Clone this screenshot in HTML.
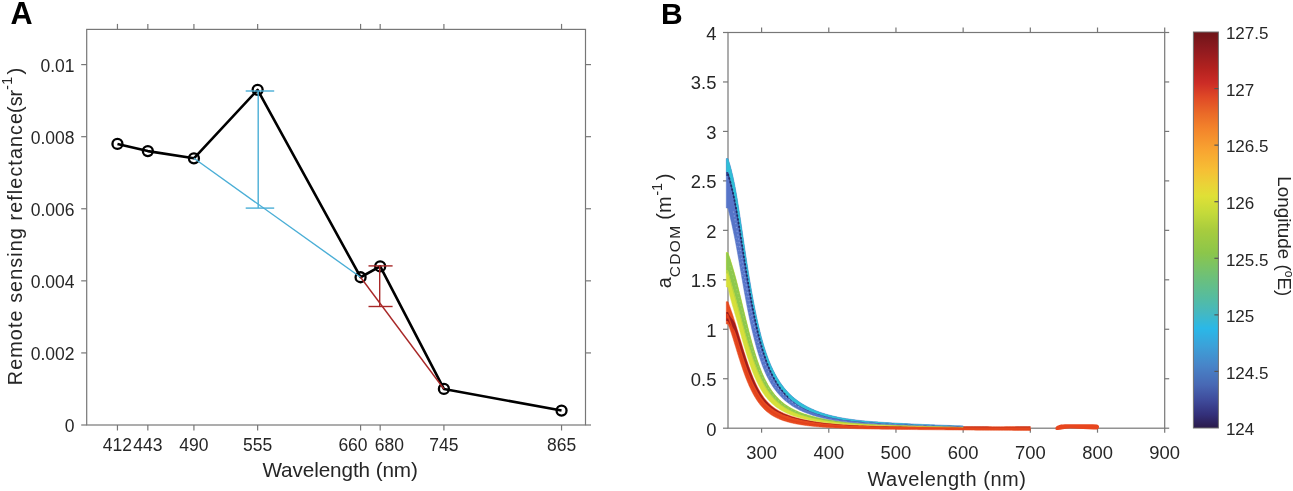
<!DOCTYPE html><html><head><meta charset="utf-8"><style>html,body{margin:0;padding:0;background:#fff;width:1293px;height:491px;overflow:hidden}svg{display:block;filter:blur(0.4px)}text{font-family:"Liberation Sans",sans-serif;fill:#262626}</style></head><body>
<svg width="1293" height="491" viewBox="0 0 1293 491">
<rect width="1293" height="491" fill="#fff"/>
<text x="10.5" y="23.6" font-size="30.6" font-weight="bold" style="fill:#000">A</text>
<text x="660.9" y="24.1" font-size="30" font-weight="bold" style="fill:#000">B</text>
<g stroke="#777777" stroke-width="1.2" fill="none">
<rect x="86.70" y="29.40" width="498.80" height="395.60"/>
<line x1="117.45" y1="425.00" x2="117.45" y2="430.50"/>
<line x1="117.45" y1="29.40" x2="117.45" y2="23.90"/>
<line x1="147.84" y1="425.00" x2="147.84" y2="430.50"/>
<line x1="147.84" y1="29.40" x2="147.84" y2="23.90"/>
<line x1="193.92" y1="425.00" x2="193.92" y2="430.50"/>
<line x1="193.92" y1="29.40" x2="193.92" y2="23.90"/>
<line x1="257.64" y1="425.00" x2="257.64" y2="430.50"/>
<line x1="257.64" y1="29.40" x2="257.64" y2="23.90"/>
<line x1="360.58" y1="425.00" x2="360.58" y2="430.50"/>
<line x1="360.58" y1="29.40" x2="360.58" y2="23.90"/>
<line x1="380.18" y1="425.00" x2="380.18" y2="430.50"/>
<line x1="380.18" y1="29.40" x2="380.18" y2="23.90"/>
<line x1="443.91" y1="425.00" x2="443.91" y2="430.50"/>
<line x1="443.91" y1="29.40" x2="443.91" y2="23.90"/>
<line x1="561.55" y1="425.00" x2="561.55" y2="430.50"/>
<line x1="561.55" y1="29.40" x2="561.55" y2="23.90"/>
<line x1="86.70" y1="425.00" x2="81.20" y2="425.00"/>
<line x1="585.50" y1="425.00" x2="591.00" y2="425.00"/>
<line x1="86.70" y1="352.92" x2="81.20" y2="352.92"/>
<line x1="585.50" y1="352.92" x2="591.00" y2="352.92"/>
<line x1="86.70" y1="280.84" x2="81.20" y2="280.84"/>
<line x1="585.50" y1="280.84" x2="591.00" y2="280.84"/>
<line x1="86.70" y1="208.76" x2="81.20" y2="208.76"/>
<line x1="585.50" y1="208.76" x2="591.00" y2="208.76"/>
<line x1="86.70" y1="136.68" x2="81.20" y2="136.68"/>
<line x1="585.50" y1="136.68" x2="591.00" y2="136.68"/>
<line x1="86.70" y1="64.60" x2="81.20" y2="64.60"/>
<line x1="585.50" y1="64.60" x2="591.00" y2="64.60"/>
</g>
<g font-size="17.5" text-anchor="middle">
<text x="117.45" y="451">412</text>
<text x="147.84" y="451">443</text>
<text x="193.92" y="451">490</text>
<text x="257.64" y="451">555</text>
<text x="353.00" y="451">660</text>
<text x="389.40" y="451">680</text>
<text x="443.91" y="451">745</text>
<text x="561.55" y="451">865</text>
</g>
<g font-size="17.5" text-anchor="end">
<text x="74.5" y="432.10">0</text>
<text x="74.5" y="360.02">0.002</text>
<text x="74.5" y="287.94">0.004</text>
<text x="74.5" y="215.86">0.006</text>
<text x="74.5" y="143.78">0.008</text>
<text x="74.5" y="71.70">0.01</text>
</g>
<text x="262.4" y="476.9" font-size="20.7" textLength="155.5" lengthAdjust="spacing">Wavelength (nm)</text>
<g transform="translate(22.2,385.2) rotate(-90)" font-size="19.8"><text x="0" y="0" textLength="272.3" lengthAdjust="spacing">Remote sensing reflectance</text><text x="272.3" y="0">(sr</text><text x="295.3" y="-9.8" font-size="15">-1</text><text x="310.6" y="0" font-size="20.5">)</text></g>
<polyline fill="none" stroke="#000" stroke-width="2.6" stroke-linejoin="round" points="117.45,143.89 147.84,151.10 193.92,158.30 257.64,89.83 360.58,277.24 380.18,266.42 443.91,388.96 561.55,410.58"/>
<circle cx="117.45" cy="143.89" r="5" fill="none" stroke="#000" stroke-width="2.3"/>
<circle cx="147.84" cy="151.10" r="5" fill="none" stroke="#000" stroke-width="2.3"/>
<circle cx="193.92" cy="158.30" r="5" fill="none" stroke="#000" stroke-width="2.3"/>
<circle cx="257.64" cy="89.83" r="5" fill="none" stroke="#000" stroke-width="2.3"/>
<circle cx="360.58" cy="277.24" r="5" fill="none" stroke="#000" stroke-width="2.3"/>
<circle cx="380.18" cy="266.42" r="5" fill="none" stroke="#000" stroke-width="2.3"/>
<circle cx="443.91" cy="388.96" r="5" fill="none" stroke="#000" stroke-width="2.3"/>
<circle cx="561.55" cy="410.58" r="5" fill="none" stroke="#000" stroke-width="2.3"/>
<g stroke="#4aaed6" stroke-width="1.4" fill="none">
<line x1="193.92" y1="158.30" x2="360.58" y2="277.24"/>
<line x1="258.2" y1="91" x2="258.2" y2="208.1"/>
<line x1="245.7" y1="91" x2="274.2" y2="91"/>
<line x1="245.7" y1="208.1" x2="274.2" y2="208.1"/>
</g>
<g stroke="#a82828" stroke-width="1.4" fill="none">
<line x1="360.58" y1="277.24" x2="443.91" y2="388.96"/>
<line x1="379.7" y1="265.9" x2="379.7" y2="306.5"/>
<line x1="368.5" y1="265.9" x2="392.6" y2="265.9"/>
<line x1="368.5" y1="306.5" x2="392.6" y2="306.5"/>
</g>
<g stroke="#777777" stroke-width="1.2" fill="none">
<rect x="728.00" y="32.50" width="436.70" height="395.70"/>
<line x1="761.59" y1="428.20" x2="761.59" y2="432.70"/>
<line x1="761.59" y1="32.50" x2="761.59" y2="27.50"/>
<line x1="828.78" y1="428.20" x2="828.78" y2="432.70"/>
<line x1="828.78" y1="32.50" x2="828.78" y2="27.50"/>
<line x1="895.96" y1="428.20" x2="895.96" y2="432.70"/>
<line x1="895.96" y1="32.50" x2="895.96" y2="27.50"/>
<line x1="963.15" y1="428.20" x2="963.15" y2="432.70"/>
<line x1="963.15" y1="32.50" x2="963.15" y2="27.50"/>
<line x1="1030.33" y1="428.20" x2="1030.33" y2="432.70"/>
<line x1="1030.33" y1="32.50" x2="1030.33" y2="27.50"/>
<line x1="1097.52" y1="428.20" x2="1097.52" y2="432.70"/>
<line x1="1097.52" y1="32.50" x2="1097.52" y2="27.50"/>
<line x1="1164.70" y1="428.20" x2="1164.70" y2="432.70"/>
<line x1="1164.70" y1="32.50" x2="1164.70" y2="27.50"/>
<line x1="728.00" y1="428.20" x2="723.00" y2="428.20"/>
<line x1="1164.70" y1="428.20" x2="1169.20" y2="428.20"/>
<line x1="728.00" y1="378.74" x2="723.00" y2="378.74"/>
<line x1="1164.70" y1="378.74" x2="1169.20" y2="378.74"/>
<line x1="728.00" y1="329.27" x2="723.00" y2="329.27"/>
<line x1="1164.70" y1="329.27" x2="1169.20" y2="329.27"/>
<line x1="728.00" y1="279.81" x2="723.00" y2="279.81"/>
<line x1="1164.70" y1="279.81" x2="1169.20" y2="279.81"/>
<line x1="728.00" y1="230.35" x2="723.00" y2="230.35"/>
<line x1="1164.70" y1="230.35" x2="1169.20" y2="230.35"/>
<line x1="728.00" y1="180.89" x2="723.00" y2="180.89"/>
<line x1="1164.70" y1="180.89" x2="1169.20" y2="180.89"/>
<line x1="728.00" y1="131.43" x2="723.00" y2="131.43"/>
<line x1="1164.70" y1="131.43" x2="1169.20" y2="131.43"/>
<line x1="728.00" y1="81.96" x2="723.00" y2="81.96"/>
<line x1="1164.70" y1="81.96" x2="1169.20" y2="81.96"/>
<line x1="728.00" y1="32.50" x2="723.00" y2="32.50"/>
<line x1="1164.70" y1="32.50" x2="1169.20" y2="32.50"/>
</g>
<g font-size="18.4" text-anchor="middle">
<text x="761.59" y="458.6">300</text>
<text x="828.78" y="458.6">400</text>
<text x="895.96" y="458.6">500</text>
<text x="963.15" y="458.6">600</text>
<text x="1030.33" y="458.6">700</text>
<text x="1097.52" y="458.6">800</text>
<text x="1164.70" y="458.6">900</text>
</g>
<g font-size="18.4" text-anchor="end">
<text x="716.4" y="435.55">0</text>
<text x="716.4" y="386.09">0.5</text>
<text x="716.4" y="336.62">1</text>
<text x="716.4" y="287.16">1.5</text>
<text x="716.4" y="237.70">2</text>
<text x="716.4" y="188.24">2.5</text>
<text x="716.4" y="138.78">3</text>
<text x="716.4" y="89.31">3.5</text>
<text x="716.4" y="39.85">4</text>
</g>
<text x="867.4" y="485.5" font-size="20" textLength="158.5" lengthAdjust="spacing">Wavelength (nm)</text>
<g transform="translate(671.1,288.3) rotate(-90)" font-size="20"><text x="0" y="0">a</text><text x="11.0" y="9.1" font-size="15.5" textLength="51.5" lengthAdjust="spacing">CDOM</text><text x="68.6" y="0">(m</text><text x="92.6" y="-8.8" font-size="14.5">-1</text><text x="108.0" y="0">)</text></g>
<g stroke-linejoin="round">
<polygon points="726.30,301.70 728.00,301.70 728.34,302.62 728.67,303.55 729.01,304.48 729.34,305.41 729.68,306.35 730.02,307.30 730.35,308.25 730.69,309.21 731.02,310.17 731.36,311.14 731.70,312.12 732.03,313.10 732.37,314.09 732.70,315.09 733.04,316.10 733.37,317.11 733.71,318.13 734.05,319.15 734.38,320.19 734.72,321.23 735.05,322.28 735.39,323.33 735.73,324.40 736.06,325.47 736.40,326.55 736.73,327.63 737.07,328.73 737.41,329.82 737.74,330.92 738.08,332.03 738.41,333.14 738.75,334.25 739.09,335.36 739.42,336.47 739.76,337.59 740.09,338.70 740.43,339.82 740.77,340.93 741.10,342.04 741.44,343.15 741.77,344.26 742.11,345.36 742.44,346.46 742.78,347.56 743.12,348.65 743.45,349.73 743.79,350.81 744.12,351.89 744.46,352.95 744.80,354.01 745.13,355.07 745.47,356.12 745.80,357.16 746.14,358.19 746.48,359.21 746.81,360.23 747.15,361.23 747.48,362.23 747.82,363.22 748.16,364.20 748.49,365.17 748.83,366.13 749.16,367.08 749.50,368.02 749.84,368.94 750.17,369.86 750.51,370.77 750.84,371.67 751.18,372.55 751.51,373.43 751.85,374.29 752.19,375.14 752.52,375.98 752.86,376.81 753.19,377.63 753.53,378.43 753.87,379.23 754.20,380.01 754.54,380.78 754.87,381.54 755.21,382.28 755.88,383.75 756.56,385.16 757.23,386.53 757.91,387.86 758.58,389.13 759.26,390.36 759.93,391.55 760.61,392.69 761.28,393.78 761.96,394.84 762.63,395.85 763.31,396.82 763.98,397.75 764.66,398.64 765.33,399.49 766.01,400.30 766.68,401.08 767.36,401.82 768.03,402.53 768.71,403.22 769.38,403.87 770.06,404.50 770.73,405.10 771.41,405.68 772.08,406.23 772.76,406.77 773.43,407.28 774.11,407.78 774.78,408.25 775.46,408.71 776.13,409.15 776.81,409.58 777.48,409.99 778.16,410.39 778.83,410.77 779.51,411.14 780.18,411.50 780.86,411.85 781.53,412.19 782.21,412.51 782.88,412.83 783.56,413.14 784.23,413.44 784.91,413.73 785.58,414.01 786.26,414.28 786.93,414.55 787.61,414.81 788.28,415.06 788.96,415.31 789.63,415.55 790.31,415.78 790.98,416.01 791.66,416.23 792.33,416.45 793.01,416.66 793.68,416.86 794.36,417.06 795.03,417.26 795.71,417.45 796.38,417.64 797.06,417.82 797.73,418.00 798.41,418.17 799.08,418.34 799.76,418.51 800.43,418.67 801.11,418.83 801.78,418.98 802.46,419.13 803.13,419.28 803.81,419.43 804.48,419.57 805.15,419.71 805.83,419.84 806.50,419.98 807.18,420.11 807.85,420.23 808.53,420.36 809.20,420.48 809.88,420.60 810.55,420.72 811.23,420.84 811.90,420.95 812.58,421.06 813.25,421.17 813.93,421.28 814.60,421.39 815.28,421.49 815.95,421.59 816.63,421.69 817.30,421.79 817.98,421.88 818.65,421.98 819.33,422.07 820.00,422.16 820.68,422.25 821.35,422.33 822.03,422.42 822.70,422.50 823.38,422.58 824.05,422.66 824.73,422.74 825.40,422.82 826.08,422.89 826.75,422.97 827.43,423.04 828.10,423.11 828.78,423.18 830.12,423.31 832.83,423.57 835.53,423.80 838.24,424.02 840.94,424.21 843.65,424.39 846.35,424.56 849.06,424.71 851.77,424.84 854.47,424.97 857.18,425.08 859.88,425.19 862.59,425.28 865.29,425.37 868.00,425.45 870.70,425.52 873.41,425.59 876.12,425.65 878.82,425.71 881.53,425.76 884.23,425.81 886.94,425.85 889.64,425.90 892.35,425.94 895.05,425.98 897.76,426.01 900.47,426.05 903.17,426.08 905.88,426.12 908.58,426.15 911.29,426.18 913.99,426.21 916.70,426.24 919.40,426.26 922.11,426.29 924.82,426.32 927.52,426.34 930.23,426.36 932.93,426.38 935.64,426.40 938.34,426.42 941.05,426.44 943.75,426.46 946.46,426.48 949.17,426.49 951.87,426.51 954.58,426.52 957.28,426.54 959.99,426.55 962.69,426.56 965.40,426.57 968.10,426.58 970.81,426.59 973.52,426.60 976.22,426.60 978.93,426.61 981.63,426.61 984.34,426.62 987.04,426.62 989.75,426.62 992.45,426.63 995.16,426.63 997.87,426.63 1000.57,426.63 1003.28,426.63 1005.98,426.62 1008.69,426.62 1011.39,426.62 1014.10,426.61 1016.80,426.61 1019.51,426.60 1022.22,426.59 1024.92,426.58 1027.63,426.58 1030.33,426.57 1030.33,430.48 1027.63,430.47 1024.92,430.45 1022.22,430.44 1019.51,430.42 1016.80,430.41 1014.10,430.39 1011.39,430.37 1008.69,430.36 1005.98,430.34 1003.28,430.32 1000.57,430.30 997.87,430.29 995.16,430.27 992.45,430.25 989.75,430.23 987.04,430.21 984.34,430.19 981.63,430.17 978.93,430.15 976.22,430.13 973.52,430.11 970.81,430.09 968.10,430.07 965.40,430.05 962.69,430.03 959.99,430.01 957.28,429.98 954.58,429.96 951.87,429.94 949.17,429.91 946.46,429.89 943.75,429.87 941.05,429.84 938.34,429.82 935.64,429.79 932.93,429.76 930.23,429.74 927.52,429.71 924.82,429.68 922.11,429.65 919.40,429.63 916.70,429.60 913.99,429.57 911.29,429.54 908.58,429.51 905.88,429.48 903.17,429.44 900.47,429.41 897.76,429.38 895.05,429.35 892.35,429.31 889.64,429.28 886.94,429.24 884.23,429.20 881.53,429.16 878.82,429.12 876.12,429.08 873.41,429.03 870.70,428.98 868.00,428.93 865.29,428.88 862.59,428.82 859.88,428.76 857.18,428.69 854.47,428.62 851.77,428.54 849.06,428.46 846.35,428.37 843.65,428.27 840.94,428.17 838.24,428.05 835.53,427.92 832.83,427.79 830.12,427.64 828.78,427.56 828.10,427.52 827.43,427.47 826.75,427.43 826.08,427.39 825.40,427.34 824.73,427.30 824.05,427.25 823.38,427.20 822.70,427.15 822.03,427.10 821.35,427.05 820.68,427.00 820.00,426.94 819.33,426.89 818.65,426.83 817.98,426.77 817.30,426.71 816.63,426.65 815.95,426.59 815.28,426.53 814.60,426.46 813.93,426.40 813.25,426.33 812.58,426.26 811.90,426.19 811.23,426.12 810.55,426.04 809.88,425.97 809.20,425.89 808.53,425.81 807.85,425.73 807.18,425.64 806.50,425.56 805.83,425.47 805.15,425.38 804.48,425.29 803.81,425.19 803.13,425.09 802.46,424.99 801.78,424.89 801.11,424.78 800.43,424.68 799.76,424.57 799.08,424.45 798.41,424.33 797.73,424.21 797.06,424.09 796.38,423.96 795.71,423.83 795.03,423.69 794.36,423.56 793.68,423.41 793.01,423.27 792.33,423.11 791.66,422.96 790.98,422.80 790.31,422.63 789.63,422.46 788.96,422.29 788.28,422.11 787.61,421.92 786.93,421.73 786.26,421.53 785.58,421.32 784.91,421.11 784.23,420.89 783.56,420.67 782.88,420.43 782.21,420.19 781.53,419.94 780.86,419.69 780.18,419.42 779.51,419.15 778.83,418.86 778.16,418.57 777.48,418.26 776.81,417.94 776.13,417.62 775.46,417.28 774.78,416.92 774.11,416.56 773.43,416.18 772.76,415.79 772.08,415.38 771.41,414.95 770.73,414.51 770.06,414.05 769.38,413.58 768.71,413.08 768.03,412.56 767.36,412.03 766.68,411.47 766.01,410.89 765.33,410.28 764.66,409.65 763.98,408.99 763.31,408.30 762.63,407.59 761.96,406.85 761.28,406.07 760.61,405.27 759.93,404.43 759.26,403.56 758.58,402.65 757.91,401.71 757.23,400.74 756.56,399.72 755.88,398.67 755.21,397.58 754.87,397.02 754.54,396.45 754.20,395.88 753.87,395.29 753.53,394.69 753.19,394.08 752.86,393.46 752.52,392.83 752.19,392.18 751.85,391.53 751.51,390.87 751.18,390.19 750.84,389.50 750.51,388.81 750.17,388.10 749.84,387.37 749.50,386.64 749.16,385.89 748.83,385.14 748.49,384.37 748.16,383.59 747.82,382.79 747.48,381.99 747.15,381.17 746.81,380.34 746.48,379.50 746.14,378.64 745.80,377.78 745.47,376.90 745.13,376.01 744.80,375.11 744.46,374.20 744.12,373.27 743.79,372.34 743.45,371.39 743.12,370.44 742.78,369.47 742.44,368.49 742.11,367.51 741.77,366.51 741.44,365.50 741.10,364.49 740.77,363.46 740.43,362.43 740.09,361.39 739.76,360.34 739.42,359.29 739.09,358.23 738.75,357.16 738.41,356.08 738.08,355.00 737.74,353.92 737.41,352.83 737.07,351.74 736.73,350.64 736.40,349.54 736.06,348.44 735.73,347.34 735.39,346.24 735.05,345.14 734.72,344.04 734.38,342.94 734.05,341.85 733.71,340.76 733.37,339.67 733.04,338.59 732.70,337.52 732.37,336.46 732.03,335.41 731.70,334.37 731.36,333.34 731.02,332.32 730.69,331.32 730.35,330.34 730.02,329.37 729.68,328.42 729.34,327.49 729.01,326.58 728.67,325.70 728.34,324.83 728.00,324.00 726.30,324.00" fill="#e64a1f" stroke="#e64a1f" stroke-width="0.5"/>
<polygon points="726.30,311.96 728.00,311.96 728.34,312.79 728.67,313.55 729.01,314.25 729.34,314.88 729.68,315.46 730.02,316.00 730.35,316.50 730.69,316.97 731.02,317.42 731.36,317.85 731.70,318.26 732.03,318.68 732.37,319.10 732.70,319.53 733.04,319.99 733.37,320.47 733.71,320.99 734.05,321.55 734.38,322.17 734.72,322.85 735.05,323.60 735.39,324.44 735.73,325.36 736.06,326.39 736.40,327.47 736.73,328.55 737.07,329.65 737.41,330.74 737.74,331.84 738.08,332.95 738.41,334.06 738.75,335.16 739.09,336.28 739.42,337.39 739.76,338.50 740.09,339.61 740.43,340.72 740.77,341.83 741.10,342.94 741.44,344.05 741.77,345.15 742.11,346.25 742.44,347.34 742.78,348.43 743.12,349.52 743.45,350.60 743.79,351.67 744.12,352.74 744.46,353.80 744.80,354.86 745.13,355.91 745.47,356.95 745.80,357.98 746.14,359.01 746.48,360.02 746.81,361.03 747.15,362.03 747.48,363.02 747.82,364.00 748.16,364.97 748.49,365.94 748.83,366.90 749.16,367.84 749.50,368.78 749.84,369.71 750.17,370.62 750.51,371.52 750.84,372.42 751.18,373.30 751.51,374.17 751.85,375.03 752.19,375.87 752.52,376.71 752.86,377.53 753.19,378.35 753.53,379.15 753.87,379.94 754.20,380.71 754.54,381.48 754.87,382.23 755.21,382.97 755.88,384.43 756.56,385.84 757.23,387.20 757.91,388.51 758.58,389.78 759.26,391.00 759.93,392.18 760.61,393.31 761.28,394.40 761.96,395.44 762.63,396.44 763.31,397.41 763.98,398.33 764.66,399.21 765.33,400.06 766.01,400.86 766.68,401.64 767.36,402.37 768.03,403.08 768.71,403.76 769.38,404.41 770.06,405.04 770.73,405.64 771.41,406.21 772.08,406.76 772.76,407.29 773.43,407.81 774.11,408.30 774.78,408.77 775.46,409.23 776.13,409.67 776.81,410.09 777.48,410.50 778.16,410.90 778.83,411.28 779.51,411.65 780.18,412.01 780.86,412.36 781.53,412.69 782.21,413.02 782.88,413.33 783.56,413.64 784.23,413.93 784.91,414.22 785.58,414.50 786.26,414.78 786.93,415.04 787.61,415.30 788.28,415.55 788.96,415.80 789.63,416.03 790.31,416.26 790.98,416.48 791.66,416.70 792.33,416.91 793.01,417.12 793.68,417.32 794.36,417.52 795.03,417.71 795.71,417.90 796.38,418.08 797.06,418.26 797.73,418.43 798.41,418.60 799.08,418.77 799.76,418.93 800.43,419.09 801.11,419.24 801.78,419.39 802.46,419.54 803.13,419.69 803.81,419.83 804.48,419.97 805.15,420.10 805.83,420.24 806.50,420.37 807.18,420.49 807.85,420.62 808.53,420.74 809.20,420.86 809.88,420.98 810.55,421.10 811.23,421.21 811.90,421.32 812.58,421.43 813.25,421.54 813.93,421.64 814.60,421.74 815.28,421.84 815.95,421.94 816.63,422.04 817.30,422.13 817.98,422.23 818.65,422.32 819.33,422.41 820.00,422.49 820.68,422.58 821.35,422.66 822.03,422.75 822.70,422.83 823.38,422.91 824.05,422.98 824.73,423.06 825.40,423.14 826.08,423.21 826.75,423.28 827.43,423.35 828.10,423.42 828.78,423.49 830.12,423.62 832.83,423.86 835.53,424.09 838.24,424.30 840.94,424.49 843.65,424.67 846.35,424.82 849.06,424.97 851.77,425.10 854.47,425.22 857.18,425.34 859.88,425.44 862.59,425.53 865.29,425.62 868.00,425.69 870.70,425.76 873.41,425.83 876.12,425.89 878.82,425.95 881.53,426.00 884.23,426.05 886.94,426.09 889.64,426.13 892.35,426.17 895.05,426.21 897.76,426.25 900.47,426.28 903.17,426.32 905.88,426.35 908.58,426.38 911.29,426.41 913.99,426.44 916.70,426.47 919.40,426.50 922.11,426.53 924.82,426.55 927.52,426.58 930.23,426.60 932.93,426.62 935.64,426.64 938.34,426.66 941.05,426.68 943.75,426.70 946.46,426.72 949.17,426.73 951.87,426.75 954.58,426.76 957.28,426.78 959.99,426.79 962.69,426.80 965.40,426.81 968.10,426.82 970.81,426.83 973.52,426.84 976.22,426.85 978.93,426.86 981.63,426.86 984.34,426.87 987.04,426.87 989.75,426.88 992.45,426.88 995.16,426.88 997.87,426.88 1000.57,426.88 1003.28,426.88 1005.98,426.88 1008.69,426.88 1011.39,426.88 1014.10,426.88 1016.80,426.87 1019.51,426.87 1022.22,426.86 1024.92,426.86 1027.63,426.85 1030.33,426.84 1030.33,427.27 1027.63,427.28 1024.92,427.28 1022.22,427.29 1019.51,427.29 1016.80,427.29 1014.10,427.29 1011.39,427.29 1008.69,427.29 1005.98,427.29 1003.28,427.29 1000.57,427.29 997.87,427.29 995.16,427.28 992.45,427.28 989.75,427.27 987.04,427.27 984.34,427.26 981.63,427.25 978.93,427.25 976.22,427.24 973.52,427.23 970.81,427.22 968.10,427.21 965.40,427.20 962.69,427.18 959.99,427.17 957.28,427.16 954.58,427.14 951.87,427.13 949.17,427.11 946.46,427.09 943.75,427.07 941.05,427.05 938.34,427.03 935.64,427.01 932.93,426.99 930.23,426.97 927.52,426.95 924.82,426.92 922.11,426.90 919.40,426.87 916.70,426.84 913.99,426.81 911.29,426.78 908.58,426.75 905.88,426.72 903.17,426.69 900.47,426.65 897.76,426.62 895.05,426.58 892.35,426.55 889.64,426.51 886.94,426.46 884.23,426.42 881.53,426.37 878.82,426.32 876.12,426.27 873.41,426.21 870.70,426.15 868.00,426.08 865.29,426.00 862.59,425.92 859.88,425.83 857.18,425.73 854.47,425.63 851.77,425.51 849.06,425.38 846.35,425.24 843.65,425.09 840.94,424.93 838.24,424.74 835.53,424.54 832.83,424.33 830.12,424.09 828.78,423.97 828.10,423.90 827.43,423.84 826.75,423.77 826.08,423.70 825.40,423.63 824.73,423.56 824.05,423.49 823.38,423.41 822.70,423.34 822.03,423.26 821.35,423.18 820.68,423.10 820.00,423.02 819.33,422.94 818.65,422.85 817.98,422.76 817.30,422.68 816.63,422.58 815.95,422.49 815.28,422.40 814.60,422.30 813.93,422.20 813.25,422.10 812.58,422.00 811.90,421.90 811.23,421.79 810.55,421.68 809.88,421.57 809.20,421.46 808.53,421.34 807.85,421.22 807.18,421.10 806.50,420.98 805.83,420.86 805.15,420.73 804.48,420.60 803.81,420.46 803.13,420.33 802.46,420.19 801.78,420.04 801.11,419.90 800.43,419.75 799.76,419.60 799.08,419.44 798.41,419.28 797.73,419.12 797.06,418.95 796.38,418.78 795.71,418.60 795.03,418.42 794.36,418.23 793.68,418.04 793.01,417.85 792.33,417.65 791.66,417.44 790.98,417.23 790.31,417.01 789.63,416.79 788.96,416.56 788.28,416.34 787.61,416.12 786.93,415.90 786.26,415.67 785.58,415.43 784.91,415.19 784.23,414.94 783.56,414.68 782.88,414.41 782.21,414.14 781.53,413.85 780.86,413.56 780.18,413.25 779.51,412.94 778.83,412.62 778.16,412.28 777.48,411.93 776.81,411.57 776.13,411.20 775.46,410.81 774.78,410.40 774.11,409.98 773.43,409.55 772.76,409.09 772.08,408.62 771.41,408.13 770.73,407.62 770.06,407.09 769.38,406.54 768.71,405.96 768.03,405.36 767.36,404.73 766.68,404.07 766.01,403.38 765.33,402.67 764.66,401.92 763.98,401.14 763.31,400.32 762.63,399.47 761.96,398.58 761.28,397.65 760.61,396.69 759.93,395.69 759.26,394.65 758.58,393.57 757.91,392.45 757.23,391.29 756.56,390.09 755.88,388.85 755.21,387.56 754.87,386.90 754.54,386.24 754.20,385.56 753.87,384.87 753.53,384.18 753.19,383.47 752.86,382.75 752.52,382.02 752.19,381.28 751.85,380.53 751.51,379.76 751.18,378.99 750.84,378.21 750.51,377.41 750.17,376.61 749.84,375.79 749.50,374.97 749.16,374.13 748.83,373.29 748.49,372.43 748.16,371.57 747.82,370.66 747.48,369.74 747.15,368.81 746.81,367.87 746.48,366.92 746.14,365.96 745.80,364.99 745.47,364.01 745.13,363.03 744.80,362.03 744.46,361.03 744.12,360.01 743.79,358.99 743.45,357.96 743.12,356.93 742.78,355.88 742.44,354.83 742.11,353.78 741.77,352.71 741.44,351.65 741.10,350.57 740.77,349.49 740.43,348.41 740.09,347.33 739.76,346.24 739.42,345.14 739.09,344.05 738.75,342.95 738.41,341.86 738.08,340.76 737.74,339.66 737.41,338.56 737.07,337.47 736.73,336.38 736.40,335.29 736.06,334.20 735.73,333.17 735.39,332.25 735.05,331.44 734.72,330.71 734.38,330.06 734.05,329.48 733.71,328.96 733.37,328.49 733.04,328.06 732.70,327.67 732.37,327.29 732.03,326.93 731.70,326.58 731.36,326.22 731.02,325.86 730.69,325.47 730.35,325.07 730.02,324.62 729.68,324.14 729.34,323.61 729.01,323.03 728.67,322.39 728.34,321.67 728.00,320.88 726.30,320.88" fill="#a01d1c" />
<polygon points="726.30,313.96 728.00,313.96 728.34,314.84 728.67,315.73 729.01,316.63 729.34,317.56 729.68,318.49 730.02,319.44 730.35,320.40 730.69,321.37 731.02,322.36 731.36,323.35 731.70,324.36 732.03,325.37 732.37,326.40 732.70,327.43 733.04,328.47 733.37,329.52 733.71,330.57 734.05,331.63 734.38,332.70 734.72,333.77 735.05,334.85 735.39,335.93 735.73,337.02 736.06,338.10 736.40,339.19 736.73,340.29 737.07,341.38 737.41,342.48 737.74,343.57 738.08,344.66 738.41,345.76 738.75,346.85 739.09,347.94 739.42,349.02 739.76,350.10 740.09,351.18 740.43,352.26 740.77,353.32 741.10,354.39 741.44,355.45 741.77,356.50 742.11,357.54 742.44,358.58 742.78,359.61 743.12,360.63 743.45,361.65 743.79,362.65 744.12,363.65 744.46,364.64 744.80,365.62 745.13,366.59 745.47,367.55 745.80,368.50 746.14,369.44 746.48,370.37 746.81,371.29 747.15,372.20 747.48,373.10 747.82,373.98 748.16,374.86 748.49,375.73 748.83,376.58 749.16,377.43 749.50,378.26 749.84,379.08 750.17,379.89 750.51,380.69 750.84,381.48 751.18,382.25 751.51,383.02 751.85,383.77 752.19,384.52 752.52,385.25 752.86,385.97 753.19,386.68 753.53,387.37 753.87,388.06 754.20,388.74 754.54,389.40 754.87,390.05 755.21,390.70 755.88,391.96 756.56,393.17 757.23,394.35 757.91,395.48 758.58,396.57 759.26,397.62 759.93,398.63 760.61,399.61 761.28,400.54 761.96,401.44 762.63,402.31 763.31,403.14 763.98,403.93 764.66,404.69 765.33,405.42 766.01,406.12 766.68,406.79 767.36,407.43 768.03,408.05 768.71,408.64 769.38,409.21 770.06,409.75 770.73,410.28 771.41,410.78 772.08,411.26 772.76,411.73 773.43,412.18 774.11,412.61 774.78,413.02 775.46,413.42 776.13,413.81 776.81,414.18 777.48,414.54 778.16,414.89 778.83,415.22 779.51,415.55 780.18,415.86 780.86,416.16 781.53,416.45 782.21,416.74 782.88,417.01 783.56,417.28 784.23,417.54 784.91,417.79 785.58,418.03 786.26,418.27 786.93,418.50 787.61,418.72 788.28,418.94 788.96,419.15 789.63,419.35 790.31,419.55 790.98,419.74 791.66,419.93 792.33,420.11 793.01,420.29 793.68,420.47 794.36,420.63 795.03,420.80 795.71,420.96 796.38,421.12 797.06,421.27 797.73,421.42 798.41,421.56 799.08,421.70 799.76,421.84 800.43,421.97 801.11,422.10 801.78,422.23 802.46,422.36 803.13,422.48 803.81,422.60 804.48,422.71 805.15,422.83 805.83,422.94 806.50,423.05 807.18,423.15 807.85,423.26 808.53,423.36 809.20,423.46 809.88,423.55 810.55,423.65 811.23,423.74 811.90,423.83 812.58,423.92 813.25,424.01 813.93,424.10 814.60,424.18 815.28,424.26 815.95,424.34 816.63,424.42 817.30,424.50 817.98,424.57 818.65,424.65 819.33,424.72 820.00,424.79 820.68,424.86 821.35,424.93 822.03,424.99 822.70,425.06 823.38,425.12 824.05,425.19 824.73,425.25 825.40,425.31 826.08,425.36 826.75,425.42 827.43,425.48 828.10,425.53 828.78,425.59 830.12,425.69 832.83,425.89 835.53,426.07 838.24,426.24 840.94,426.39 843.65,426.53 846.35,426.65 849.06,426.77 851.77,426.88 854.47,426.98 857.18,427.07 859.88,427.15 862.59,427.23 865.29,427.30 868.00,427.37 870.70,427.43 873.41,427.48 876.12,427.54 878.82,427.59 881.53,427.63 884.23,427.68 886.94,427.72 889.64,427.76 892.35,427.79 895.05,427.83 897.76,427.86 900.47,427.90 903.17,427.93 905.88,427.96 908.58,428.00 911.29,428.03 913.99,428.06 916.70,428.09 919.40,428.11 922.11,428.14 924.82,428.17 927.52,428.19 930.23,428.22 932.93,428.24 935.64,428.27 938.34,428.29 941.05,428.31 943.75,428.33 946.46,428.35 949.17,428.37 951.87,428.39 954.58,428.41 957.28,428.43 959.99,428.45 962.69,428.47 965.40,428.48 968.10,428.50 970.81,428.52 973.52,428.53 976.22,428.54 978.93,428.56 981.63,428.57 984.34,428.58 987.04,428.60 989.75,428.61 992.45,428.62 995.16,428.63 997.87,428.64 1000.57,428.65 1003.28,428.66 1005.98,428.67 1008.69,428.67 1011.39,428.68 1014.10,428.69 1016.80,428.70 1019.51,428.70 1022.22,428.71 1024.92,428.71 1027.63,428.72 1030.33,428.72 1030.33,429.51 1027.63,429.50 1024.92,429.49 1022.22,429.48 1019.51,429.47 1016.80,429.46 1014.10,429.45 1011.39,429.43 1008.69,429.42 1005.98,429.41 1003.28,429.40 1000.57,429.38 997.87,429.37 995.16,429.36 992.45,429.34 989.75,429.33 987.04,429.31 984.34,429.30 981.63,429.28 978.93,429.27 976.22,429.25 973.52,429.23 970.81,429.22 968.10,429.20 965.40,429.18 962.69,429.16 959.99,429.14 957.28,429.12 954.58,429.10 951.87,429.08 949.17,429.06 946.46,429.04 943.75,429.01 941.05,428.99 938.34,428.97 935.64,428.94 932.93,428.92 930.23,428.89 927.52,428.87 924.82,428.84 922.11,428.81 919.40,428.79 916.70,428.76 913.99,428.73 911.29,428.70 908.58,428.67 905.88,428.64 903.17,428.60 900.47,428.57 897.76,428.54 895.05,428.50 892.35,428.47 889.64,428.43 886.94,428.39 884.23,428.35 881.53,428.31 878.82,428.27 876.12,428.22 873.41,428.17 870.70,428.12 868.00,428.06 865.29,428.00 862.59,427.94 859.88,427.87 857.18,427.79 854.47,427.71 851.77,427.62 849.06,427.52 846.35,427.42 843.65,427.30 840.94,427.18 838.24,427.04 835.53,426.89 832.83,426.73 830.12,426.56 828.78,426.46 828.10,426.41 827.43,426.37 826.75,426.31 826.08,426.26 825.40,426.21 824.73,426.16 824.05,426.10 823.38,426.05 822.70,425.99 822.03,425.93 821.35,425.87 820.68,425.81 820.00,425.75 819.33,425.68 818.65,425.62 817.98,425.55 817.30,425.48 816.63,425.41 815.95,425.34 815.28,425.27 814.60,425.20 813.93,425.12 813.25,425.04 812.58,424.96 811.90,424.88 811.23,424.80 810.55,424.71 809.88,424.63 809.20,424.54 808.53,424.45 807.85,424.35 807.18,424.26 806.50,424.16 805.83,424.06 805.15,423.96 804.48,423.86 803.81,423.75 803.13,423.64 802.46,423.53 801.78,423.41 801.11,423.29 800.43,423.17 799.76,423.05 799.08,422.92 798.41,422.79 797.73,422.66 797.06,422.52 796.38,422.38 795.71,422.24 795.03,422.09 794.36,421.93 793.68,421.78 793.01,421.61 792.33,421.45 791.66,421.28 790.98,421.10 790.31,420.92 789.63,420.73 788.96,420.54 788.28,420.34 787.61,420.14 786.93,419.93 786.26,419.72 785.58,419.49 784.91,419.27 784.23,419.03 783.56,418.79 782.88,418.53 782.21,418.27 781.53,418.01 780.86,417.73 780.18,417.44 779.51,417.15 778.83,416.84 778.16,416.52 777.48,416.19 776.81,415.85 776.13,415.50 775.46,415.14 774.78,414.76 774.11,414.36 773.43,413.95 772.76,413.53 772.08,413.09 771.41,412.63 770.73,412.16 770.06,411.66 769.38,411.15 768.71,410.61 768.03,410.06 767.36,409.48 766.68,408.87 766.01,408.24 765.33,407.58 764.66,406.90 763.98,406.18 763.31,405.43 762.63,404.65 761.96,403.84 761.28,403.00 760.61,402.12 759.93,401.21 759.26,400.26 758.58,399.27 757.91,398.25 757.23,397.19 756.56,396.08 755.88,394.94 755.21,393.76 754.87,393.15 754.54,392.54 754.20,391.91 753.87,391.27 753.53,390.62 753.19,389.97 752.86,389.30 752.52,388.62 752.19,387.92 751.85,387.22 751.51,386.51 751.18,385.78 750.84,385.04 750.51,384.30 750.17,383.54 749.84,382.77 749.50,381.98 749.16,381.19 748.83,380.38 748.49,379.57 748.16,378.74 747.82,377.90 747.48,377.05 747.15,376.19 746.81,375.31 746.48,374.43 746.14,373.53 745.80,372.62 745.47,371.70 745.13,370.78 744.80,369.84 744.46,368.89 744.12,367.93 743.79,366.96 743.45,365.98 743.12,364.99 742.78,363.99 742.44,362.99 742.11,361.97 741.77,360.95 741.44,359.92 741.10,358.88 740.77,357.83 740.43,356.78 740.09,355.72 739.76,354.65 739.42,353.58 739.09,352.51 738.75,351.43 738.41,350.35 738.08,349.26 737.74,348.17 737.41,347.08 737.07,345.98 736.73,344.89 736.40,343.79 736.06,342.70 735.73,341.60 735.39,340.51 735.05,339.42 734.72,338.34 734.38,337.25 734.05,336.17 733.71,335.10 733.37,334.03 733.04,332.97 732.70,331.91 732.37,330.87 732.03,329.83 731.70,328.81 731.36,327.79 731.02,326.79 730.69,325.79 730.35,324.82 730.02,323.85 729.68,322.90 729.34,321.97 729.01,321.06 728.67,320.16 728.34,319.28 728.00,318.42 726.30,318.42" fill="#e2401c" />
<polygon points="726.30,252.50 728.00,252.50 728.34,253.48 728.67,254.48 729.01,255.48 729.34,256.48 729.68,257.50 730.02,258.53 730.35,259.57 730.69,260.62 731.02,261.68 731.36,262.75 731.70,263.83 732.03,264.93 732.37,266.03 732.70,267.15 733.04,268.29 733.37,269.43 733.71,270.59 734.05,271.76 734.38,272.95 734.72,274.15 735.05,275.36 735.39,276.59 735.73,277.83 736.06,279.09 736.40,280.36 736.73,281.64 737.07,282.94 737.41,284.24 737.74,285.56 738.08,286.89 738.41,288.23 738.75,289.58 739.09,290.94 739.42,292.30 739.76,293.67 740.09,295.04 740.43,296.42 740.77,297.80 741.10,299.19 741.44,300.58 741.77,301.97 742.11,303.37 742.44,304.76 742.78,306.15 743.12,307.55 743.45,308.94 743.79,310.33 744.12,311.72 744.46,313.10 744.80,314.49 745.13,315.87 745.47,317.24 745.80,318.61 746.14,319.97 746.48,321.33 746.81,322.69 747.15,324.03 747.48,325.37 747.82,326.70 748.16,328.03 748.49,329.35 748.83,330.65 749.16,331.95 749.50,333.24 749.84,334.52 750.17,335.79 750.51,337.05 750.84,338.30 751.18,339.54 751.51,340.77 751.85,341.98 752.19,343.19 752.52,344.38 752.86,345.56 753.19,346.72 753.53,347.88 753.87,349.02 754.20,350.15 754.54,351.26 754.87,352.36 755.21,353.45 755.88,355.60 756.56,357.69 757.23,359.72 757.91,361.70 758.58,363.62 759.26,365.48 759.93,367.29 760.61,369.04 761.28,370.74 761.96,372.38 762.63,373.97 763.31,375.50 763.98,376.98 764.66,378.40 765.33,379.78 766.01,381.10 766.68,382.37 767.36,383.60 768.03,384.78 768.71,385.93 769.38,387.03 770.06,388.09 770.73,389.11 771.41,390.10 772.08,391.05 772.76,391.97 773.43,392.86 774.11,393.72 774.78,394.55 775.46,395.35 776.13,396.13 776.81,396.87 777.48,397.60 778.16,398.30 778.83,398.97 779.51,399.63 780.18,400.26 780.86,400.87 781.53,401.46 782.21,402.04 782.88,402.59 783.56,403.13 784.23,403.65 784.91,404.15 785.58,404.64 786.26,405.12 786.93,405.57 787.61,406.02 788.28,406.45 788.96,406.87 789.63,407.27 790.31,407.67 790.98,408.05 791.66,408.42 792.33,408.78 793.01,409.13 793.68,409.48 794.36,409.81 795.03,410.13 795.71,410.45 796.38,410.75 797.06,411.05 797.73,411.34 798.41,411.63 799.08,411.90 799.76,412.17 800.43,412.44 801.11,412.70 801.78,412.95 802.46,413.19 803.13,413.43 803.81,413.67 804.48,413.90 805.15,414.12 805.83,414.34 806.50,414.56 807.18,414.77 807.85,414.98 808.53,415.18 809.20,415.38 809.88,415.58 810.55,415.77 811.23,415.96 811.90,416.15 812.58,416.33 813.25,416.51 813.93,416.68 814.60,416.85 815.28,417.02 815.95,417.19 816.63,417.35 817.30,417.51 817.98,417.67 818.65,417.82 819.33,417.97 820.00,418.12 820.68,418.26 821.35,418.41 822.03,418.55 822.70,418.68 823.38,418.82 824.05,418.95 824.73,419.08 825.40,419.21 826.08,419.33 826.75,419.45 827.43,419.57 828.10,419.69 828.78,419.81 830.12,420.03 832.84,420.45 835.55,420.85 838.27,421.21 840.98,421.54 843.70,421.85 846.41,422.13 849.12,422.39 851.84,422.63 854.55,422.85 857.27,423.06 859.98,423.25 862.70,423.42 865.41,423.59 868.13,423.74 870.84,423.89 873.56,424.02 876.27,424.15 878.99,424.27 881.70,424.38 884.42,424.49 887.13,424.60 889.85,424.70 892.56,424.79 895.28,424.89 897.99,424.98 900.71,425.07 903.42,425.15 906.14,425.24 908.85,425.32 911.57,425.41 914.28,425.49 917.00,425.57 919.71,425.65 922.43,425.72 925.14,425.80 927.85,425.87 930.57,425.94 933.28,426.01 936.00,426.08 938.71,426.15 941.43,426.22 944.14,426.29 946.86,426.35 949.57,426.42 952.29,426.48 955.00,426.54 957.72,426.60 960.43,426.66 963.15,426.72 963.15,427.15 960.43,427.11 957.72,427.07 955.00,427.03 952.29,426.99 949.57,426.94 946.86,426.90 944.14,426.85 941.43,426.81 938.71,426.77 936.00,426.72 933.28,426.68 930.57,426.63 927.85,426.58 925.14,426.54 922.43,426.49 919.71,426.44 917.00,426.39 914.28,426.34 911.57,426.29 908.85,426.24 906.14,426.19 903.42,426.14 900.71,426.08 897.99,426.03 895.28,425.98 892.56,425.92 889.85,425.86 887.13,425.81 884.42,425.75 881.70,425.68 878.99,425.61 876.27,425.54 873.56,425.47 870.84,425.39 868.13,425.30 865.41,425.21 862.70,425.11 859.98,425.01 857.27,424.89 854.55,424.77 851.84,424.64 849.12,424.49 846.41,424.33 843.70,424.16 840.98,423.97 838.27,423.77 835.55,423.54 832.84,423.30 830.12,423.04 828.78,422.90 828.10,422.82 827.43,422.75 826.75,422.68 826.08,422.60 825.40,422.52 824.73,422.44 824.05,422.36 823.38,422.27 822.70,422.19 822.03,422.10 821.35,422.01 820.68,421.92 820.00,421.83 819.33,421.73 818.65,421.63 817.98,421.53 817.30,421.43 816.63,421.33 815.95,421.22 815.28,421.11 814.60,421.00 813.93,420.89 813.25,420.77 812.58,420.66 811.90,420.53 811.23,420.41 810.55,420.28 809.88,420.15 809.20,420.02 808.53,419.89 807.85,419.75 807.18,419.60 806.50,419.46 805.83,419.31 805.15,419.16 804.48,419.00 803.81,418.84 803.13,418.68 802.46,418.51 801.78,418.34 801.11,418.17 800.43,417.99 799.76,417.80 799.08,417.62 798.41,417.42 797.73,417.22 797.06,417.02 796.38,416.81 795.71,416.60 795.03,416.38 794.36,416.15 793.68,415.92 793.01,415.68 792.33,415.44 791.66,415.19 790.98,414.93 790.31,414.67 789.63,414.40 788.96,414.12 788.28,413.83 787.61,413.54 786.93,413.23 786.26,412.92 785.58,412.60 784.91,412.27 784.23,411.93 783.56,411.58 782.88,411.22 782.21,410.85 781.53,410.47 780.86,410.07 780.18,409.67 779.51,409.25 778.83,408.82 778.16,408.37 777.48,407.91 776.81,407.43 776.13,406.94 775.46,406.43 774.78,405.90 774.11,405.35 773.43,404.79 772.76,404.20 772.08,403.60 771.41,402.97 770.73,402.32 770.06,401.64 769.38,400.94 768.71,400.21 768.03,399.46 767.36,398.67 766.68,397.86 766.01,397.01 765.33,396.13 764.66,395.21 763.98,394.25 763.31,393.26 762.63,392.23 761.96,391.16 761.28,390.05 760.61,388.90 759.93,387.70 759.26,386.46 758.58,385.18 757.91,383.85 757.23,382.48 756.56,381.06 755.88,379.59 755.21,378.08 754.87,377.30 754.54,376.52 754.20,375.72 753.87,374.92 753.53,374.10 753.19,373.26 752.86,372.42 752.52,371.56 752.19,370.69 751.85,369.81 751.51,368.91 751.18,368.00 750.84,367.08 750.51,366.15 750.17,365.20 749.84,364.24 749.50,363.27 749.16,362.29 748.83,361.30 748.49,360.29 748.16,359.27 747.82,358.24 747.48,357.19 747.15,356.13 746.81,355.07 746.48,353.99 746.14,352.90 745.80,351.80 745.47,350.69 745.13,349.57 744.80,348.44 744.46,347.30 744.12,346.15 743.79,344.99 743.45,343.83 743.12,342.66 742.78,341.48 742.44,340.29 742.11,339.10 741.77,337.91 741.44,336.71 741.10,335.51 740.77,334.30 740.43,333.10 740.09,331.89 739.76,330.68 739.42,329.47 739.09,328.26 738.75,327.05 738.41,325.85 738.08,324.64 737.74,323.45 737.41,322.26 737.07,321.07 736.73,319.89 736.40,318.72 736.06,317.56 735.73,316.41 735.39,315.27 735.05,314.14 734.72,313.00 734.38,311.87 734.05,310.74 733.71,309.61 733.37,308.47 733.04,307.33 732.70,306.17 732.37,305.00 732.03,303.81 731.70,302.60 731.36,301.37 731.02,300.11 730.69,298.83 730.35,297.51 730.02,296.15 729.68,294.75 729.34,293.31 729.01,291.82 728.67,290.27 728.34,288.67 728.00,287.00 726.30,287.00" fill="#d6df3a" stroke="#d6df3a" stroke-width="0.5"/>
<polygon points="726.30,252.50 728.00,252.50 728.34,253.48 728.67,254.48 729.01,255.48 729.34,256.48 729.68,257.50 730.02,258.53 730.35,259.57 730.69,260.62 731.02,261.68 731.36,262.75 731.70,263.83 732.03,264.93 732.37,266.03 732.70,267.15 733.04,268.29 733.37,269.43 733.71,270.59 734.05,271.76 734.38,272.95 734.72,274.15 735.05,275.36 735.39,276.59 735.73,277.83 736.06,279.09 736.40,280.36 736.73,281.64 737.07,282.94 737.41,284.24 737.74,285.56 738.08,286.89 738.41,288.23 738.75,289.58 739.09,290.94 739.42,292.30 739.76,293.67 740.09,295.04 740.43,296.42 740.77,297.80 741.10,299.19 741.44,300.58 741.77,301.97 742.11,303.37 742.44,304.76 742.78,306.15 743.12,307.55 743.45,308.94 743.79,310.33 744.12,311.72 744.46,313.10 744.80,314.49 745.13,315.87 745.47,317.24 745.80,318.61 746.14,319.97 746.48,321.33 746.81,322.69 747.15,324.03 747.48,325.37 747.82,326.70 748.16,328.03 748.49,329.35 748.83,330.65 749.16,331.95 749.50,333.24 749.84,334.52 750.17,335.79 750.51,337.05 750.84,338.30 751.18,339.54 751.51,340.77 751.85,341.98 752.19,343.19 752.52,344.38 752.86,345.56 753.19,346.72 753.53,347.88 753.87,349.02 754.20,350.15 754.54,351.26 754.87,352.36 755.21,353.45 755.88,355.60 756.56,357.69 757.23,359.72 757.91,361.70 758.58,363.62 759.26,365.48 759.93,367.29 760.61,369.04 761.28,370.74 761.96,372.38 762.63,373.97 763.31,375.50 763.98,376.98 764.66,378.40 765.33,379.78 766.01,381.10 766.68,382.37 767.36,383.60 768.03,384.78 768.71,385.93 769.38,387.03 770.06,388.09 770.73,389.11 771.41,390.10 772.08,391.05 772.76,391.97 773.43,392.86 774.11,393.72 774.78,394.55 775.46,395.35 776.13,396.13 776.81,396.87 777.48,397.60 778.16,398.30 778.83,398.97 779.51,399.63 780.18,400.26 780.86,400.87 781.53,401.46 782.21,402.04 782.88,402.59 783.56,403.13 784.23,403.65 784.91,404.15 785.58,404.64 786.26,405.12 786.93,405.57 787.61,406.02 788.28,406.45 788.96,406.87 789.63,407.27 790.31,407.67 790.98,408.05 791.66,408.42 792.33,408.78 793.01,409.13 793.68,409.48 794.36,409.81 795.03,410.13 795.71,410.45 796.38,410.75 797.06,411.05 797.73,411.34 798.41,411.63 799.08,411.90 799.76,412.17 800.43,412.44 801.11,412.70 801.78,412.95 802.46,413.19 803.13,413.43 803.81,413.67 804.48,413.90 805.15,414.12 805.83,414.34 806.50,414.56 807.18,414.77 807.85,414.98 808.53,415.18 809.20,415.38 809.88,415.58 810.55,415.77 811.23,415.96 811.90,416.15 812.58,416.33 813.25,416.51 813.93,416.68 814.60,416.85 815.28,417.02 815.95,417.19 816.63,417.35 817.30,417.51 817.98,417.67 818.65,417.82 819.33,417.97 820.00,418.12 820.68,418.26 821.35,418.41 822.03,418.55 822.70,418.68 823.38,418.82 824.05,418.95 824.73,419.08 825.40,419.21 826.08,419.33 826.75,419.45 827.43,419.57 828.10,419.69 828.78,419.81 830.12,420.03 832.84,420.45 835.55,420.85 838.27,421.21 840.98,421.54 843.70,421.85 846.41,422.13 849.12,422.39 851.84,422.63 854.55,422.85 857.27,423.06 859.98,423.25 862.70,423.42 865.41,423.59 868.13,423.74 870.84,423.89 873.56,424.02 876.27,424.15 878.99,424.27 881.70,424.38 884.42,424.49 887.13,424.60 889.85,424.70 892.56,424.79 895.28,424.89 897.99,424.98 900.71,425.07 903.42,425.15 906.14,425.24 908.85,425.32 911.57,425.41 914.28,425.49 917.00,425.57 919.71,425.65 922.43,425.72 925.14,425.80 927.85,425.87 930.57,425.94 933.28,426.01 936.00,426.08 938.71,426.15 941.43,426.22 944.14,426.29 946.86,426.35 949.57,426.42 952.29,426.48 955.00,426.54 957.72,426.60 960.43,426.66 963.15,426.72 963.15,426.90 960.43,426.84 957.72,426.79 955.00,426.74 952.29,426.68 949.57,426.63 946.86,426.57 944.14,426.51 941.43,426.46 938.71,426.40 936.00,426.34 933.28,426.28 930.57,426.22 927.85,426.16 925.14,426.09 922.43,426.03 919.71,425.96 917.00,425.90 914.28,425.83 911.57,425.76 908.85,425.69 906.14,425.62 903.42,425.55 900.71,425.47 897.99,425.40 895.28,425.32 892.56,425.24 889.85,425.16 887.13,425.08 884.42,424.99 881.70,424.90 878.99,424.81 876.27,424.71 873.56,424.60 870.84,424.49 868.13,424.37 865.41,424.24 862.70,424.10 859.98,423.95 857.27,423.79 854.55,423.62 851.84,423.43 849.12,423.23 846.41,423.01 843.70,422.77 840.98,422.51 838.27,422.23 835.55,421.92 832.84,421.59 830.12,421.23 828.78,421.04 828.10,420.94 827.43,420.84 826.75,420.74 826.08,420.64 825.40,420.53 824.73,420.42 824.05,420.31 823.38,420.20 822.70,420.09 822.03,419.97 821.35,419.85 820.68,419.73 820.00,419.60 819.33,419.48 818.65,419.35 817.98,419.21 817.30,419.08 816.63,418.94 815.95,418.80 815.28,418.66 814.60,418.51 813.93,418.37 813.25,418.21 812.58,418.06 811.90,417.90 811.23,417.74 810.55,417.58 809.88,417.41 809.20,417.24 808.53,417.06 807.85,416.89 807.18,416.71 806.50,416.52 805.83,416.33 805.15,416.14 804.48,415.94 803.81,415.74 803.13,415.53 802.46,415.32 801.78,415.11 801.11,414.88 800.43,414.66 799.76,414.43 799.08,414.19 798.41,413.94 797.73,413.70 797.06,413.44 796.38,413.18 795.71,412.91 795.03,412.63 794.36,412.35 793.68,412.05 793.01,411.75 792.33,411.45 791.66,411.13 790.98,410.80 790.31,410.47 789.63,410.12 788.96,409.77 788.28,409.40 787.61,409.02 786.93,408.64 786.26,408.24 785.58,407.83 784.91,407.40 784.23,406.96 783.56,406.51 782.88,406.04 782.21,405.56 781.53,405.07 780.86,404.55 780.18,404.02 779.51,403.48 778.83,402.91 778.16,402.33 777.48,401.72 776.81,401.10 776.13,400.45 775.46,399.78 774.78,399.09 774.11,398.38 773.43,397.63 772.76,396.87 772.08,396.07 771.41,395.25 770.73,394.39 770.06,393.51 769.38,392.59 768.71,391.64 768.03,390.65 767.36,389.63 766.68,388.58 766.01,387.49 765.33,386.36 764.66,385.19 763.98,383.98 763.31,382.73 762.63,381.44 761.96,380.10 761.28,378.73 760.61,377.30 759.93,375.84 759.26,374.33 758.58,372.77 757.91,371.17 757.23,369.52 756.56,367.82 755.88,366.09 755.21,364.30 754.87,363.39 754.54,362.48 754.20,361.55 753.87,360.61 753.53,359.66 753.19,358.69 752.86,357.72 752.52,356.73 752.19,355.74 751.85,354.73 751.51,353.71 751.18,352.68 750.84,351.64 750.51,350.59 750.17,349.53 749.84,348.46 749.50,347.38 749.16,346.29 748.83,345.19 748.49,344.07 748.16,342.95 747.82,341.82 747.48,340.68 747.15,339.53 746.81,338.38 746.48,337.21 746.14,336.03 745.80,334.85 745.47,333.66 745.13,332.46 744.80,331.26 744.46,330.05 744.12,328.83 743.79,327.61 743.45,326.38 743.12,325.15 742.78,323.91 742.44,322.66 742.11,321.42 741.77,320.17 741.44,318.92 741.10,317.66 740.77,316.41 740.43,315.15 740.09,313.90 739.76,312.64 739.42,311.39 739.09,310.14 738.75,308.89 738.41,307.64 738.08,306.40 737.74,305.16 737.41,303.93 737.07,302.70 736.73,301.48 736.40,300.27 736.06,299.07 735.73,297.88 735.39,296.70 735.05,295.52 734.72,294.35 734.38,293.19 734.05,292.03 733.71,290.88 733.37,289.73 733.04,288.59 732.70,287.44 732.37,286.30 732.03,285.15 731.70,283.99 731.36,282.83 731.02,281.66 730.69,280.49 730.35,279.30 730.02,278.09 729.68,276.87 729.34,275.63 729.01,274.37 728.67,273.09 728.34,271.78 728.00,270.44 726.30,270.44" fill="#8ec84e" />
<polygon points="726.30,270.44 728.00,270.44 728.34,271.78 728.67,273.09 729.01,274.37 729.34,275.63 729.68,276.87 730.02,278.09 730.35,279.30 730.69,280.49 731.02,281.66 731.36,282.83 731.70,283.99 732.03,285.15 732.37,286.30 732.70,287.44 733.04,288.59 733.37,289.73 733.71,290.88 734.05,292.03 734.38,293.19 734.72,294.35 735.05,295.52 735.39,296.70 735.73,297.88 736.06,299.07 736.40,300.27 736.73,301.48 737.07,302.70 737.41,303.93 737.74,305.16 738.08,306.40 738.41,307.64 738.75,308.89 739.09,310.14 739.42,311.39 739.76,312.64 740.09,313.90 740.43,315.15 740.77,316.41 741.10,317.66 741.44,318.92 741.77,320.17 742.11,321.42 742.44,322.66 742.78,323.91 743.12,325.15 743.45,326.38 743.79,327.61 744.12,328.83 744.46,330.05 744.80,331.26 745.13,332.46 745.47,333.66 745.80,334.85 746.14,336.03 746.48,337.21 746.81,338.38 747.15,339.53 747.48,340.68 747.82,341.82 748.16,342.95 748.49,344.07 748.83,345.19 749.16,346.29 749.50,347.38 749.84,348.46 750.17,349.53 750.51,350.59 750.84,351.64 751.18,352.68 751.51,353.71 751.85,354.73 752.19,355.74 752.52,356.73 752.86,357.72 753.19,358.69 753.53,359.66 753.87,360.61 754.20,361.55 754.54,362.48 754.87,363.39 755.21,364.30 755.88,366.09 756.56,367.82 757.23,369.52 757.91,371.17 758.58,372.77 759.26,374.33 759.93,375.84 760.61,377.30 761.28,378.73 761.96,380.10 762.63,381.44 763.31,382.73 763.98,383.98 764.66,385.19 765.33,386.36 766.01,387.49 766.68,388.58 767.36,389.63 768.03,390.65 768.71,391.64 769.38,392.59 770.06,393.51 770.73,394.39 771.41,395.25 772.08,396.07 772.76,396.87 773.43,397.63 774.11,398.38 774.78,399.09 775.46,399.78 776.13,400.45 776.81,401.10 777.48,401.72 778.16,402.33 778.83,402.91 779.51,403.48 780.18,404.02 780.86,404.55 781.53,405.07 782.21,405.56 782.88,406.04 783.56,406.51 784.23,406.96 784.91,407.40 785.58,407.83 786.26,408.24 786.93,408.64 787.61,409.02 788.28,409.40 788.96,409.77 789.63,410.12 790.31,410.47 790.98,410.80 791.66,411.13 792.33,411.45 793.01,411.75 793.68,412.05 794.36,412.35 795.03,412.63 795.71,412.91 796.38,413.18 797.06,413.44 797.73,413.70 798.41,413.94 799.08,414.19 799.76,414.43 800.43,414.66 801.11,414.88 801.78,415.11 802.46,415.32 803.13,415.53 803.81,415.74 804.48,415.94 805.15,416.14 805.83,416.33 806.50,416.52 807.18,416.71 807.85,416.89 808.53,417.06 809.20,417.24 809.88,417.41 810.55,417.58 811.23,417.74 811.90,417.90 812.58,418.06 813.25,418.21 813.93,418.37 814.60,418.51 815.28,418.66 815.95,418.80 816.63,418.94 817.30,419.08 817.98,419.21 818.65,419.35 819.33,419.48 820.00,419.60 820.68,419.73 821.35,419.85 822.03,419.97 822.70,420.09 823.38,420.20 824.05,420.31 824.73,420.42 825.40,420.53 826.08,420.64 826.75,420.74 827.43,420.84 828.10,420.94 828.78,421.04 830.12,421.23 832.84,421.59 835.55,421.92 838.27,422.23 840.98,422.51 843.70,422.77 846.41,423.01 849.12,423.23 851.84,423.43 854.55,423.62 857.27,423.79 859.98,423.95 862.70,424.10 865.41,424.24 868.13,424.37 870.84,424.49 873.56,424.60 876.27,424.71 878.99,424.81 881.70,424.90 884.42,424.99 887.13,425.08 889.85,425.16 892.56,425.24 895.28,425.32 897.99,425.40 900.71,425.47 903.42,425.55 906.14,425.62 908.85,425.69 911.57,425.76 914.28,425.83 917.00,425.90 919.71,425.96 922.43,426.03 925.14,426.09 927.85,426.16 930.57,426.22 933.28,426.28 936.00,426.34 938.71,426.40 941.43,426.46 944.14,426.51 946.86,426.57 949.57,426.63 952.29,426.68 955.00,426.74 957.72,426.79 960.43,426.84 963.15,426.90 963.15,426.93 960.43,426.88 957.72,426.83 955.00,426.78 952.29,426.73 949.57,426.67 946.86,426.62 944.14,426.56 941.43,426.51 938.71,426.45 936.00,426.40 933.28,426.34 930.57,426.28 927.85,426.22 925.14,426.16 922.43,426.10 919.71,426.03 917.00,425.97 914.28,425.91 911.57,425.84 908.85,425.77 906.14,425.71 903.42,425.64 900.71,425.57 897.99,425.49 895.28,425.42 892.56,425.35 889.85,425.27 887.13,425.19 884.42,425.11 881.70,425.02 878.99,424.93 876.27,424.83 873.56,424.73 870.84,424.62 868.13,424.51 865.41,424.39 862.70,424.25 859.98,424.11 857.27,423.96 854.55,423.79 851.84,423.61 849.12,423.42 846.41,423.21 843.70,422.98 840.98,422.73 838.27,422.46 835.55,422.17 832.84,421.85 830.12,421.50 828.78,421.32 828.10,421.23 827.43,421.13 826.75,421.03 826.08,420.93 825.40,420.83 824.73,420.73 824.05,420.62 823.38,420.51 822.70,420.40 822.03,420.29 821.35,420.17 820.68,420.06 820.00,419.94 819.33,419.81 818.65,419.69 817.98,419.56 817.30,419.43 816.63,419.30 815.95,419.17 815.28,419.03 814.60,418.89 813.93,418.74 813.25,418.60 812.58,418.45 811.90,418.30 811.23,418.14 810.55,417.98 809.88,417.82 809.20,417.66 808.53,417.49 807.85,417.32 807.18,417.14 806.50,416.96 805.83,416.78 805.15,416.59 804.48,416.40 803.81,416.20 803.13,416.00 802.46,415.80 801.78,415.59 801.11,415.38 800.43,415.16 799.76,414.93 799.08,414.70 798.41,414.47 797.73,414.22 797.06,413.98 796.38,413.72 795.71,413.46 795.03,413.19 794.36,412.92 793.68,412.63 793.01,412.34 792.33,412.04 791.66,411.74 790.98,411.42 790.31,411.10 789.63,410.76 788.96,410.42 788.28,410.07 787.61,409.70 786.93,409.33 786.26,408.94 785.58,408.54 784.91,408.13 784.23,407.71 783.56,407.27 782.88,406.82 782.21,406.36 781.53,405.88 780.86,405.38 780.18,404.87 779.51,404.34 778.83,403.80 778.16,403.23 777.48,402.65 776.81,402.05 776.13,401.42 775.46,400.78 774.78,400.11 774.11,399.42 773.43,398.71 772.76,397.97 772.08,397.20 771.41,396.41 770.73,395.58 770.06,394.73 769.38,393.84 768.71,392.93 768.03,391.97 767.36,390.99 766.68,389.97 766.01,388.92 765.33,387.83 764.66,386.70 763.98,385.54 763.31,384.33 762.63,383.08 761.96,381.79 761.28,380.46 760.61,379.09 759.93,377.67 759.26,376.21 758.58,374.71 757.91,373.16 757.23,371.57 756.56,369.93 755.88,368.24 755.21,366.52 754.87,365.64 754.54,364.75 754.20,363.85 753.87,362.94 753.53,362.02 753.19,361.08 752.86,360.14 752.52,359.18 752.19,358.21 751.85,357.23 751.51,356.25 751.18,355.25 750.84,354.23 750.51,353.21 750.17,352.18 749.84,351.14 749.50,350.08 749.16,349.02 748.83,347.94 748.49,346.86 748.16,345.77 747.82,344.66 747.48,343.55 747.15,342.42 746.81,341.29 746.48,340.15 746.14,339.00 745.80,337.84 745.47,336.67 745.13,335.50 744.80,334.32 744.46,333.13 744.12,331.93 743.79,330.73 743.45,329.52 743.12,328.31 742.78,327.09 742.44,325.86 742.11,324.63 741.77,323.40 741.44,322.17 741.10,320.93 740.77,319.69 740.43,318.45 740.09,317.21 739.76,315.97 739.42,314.73 739.09,313.49 738.75,312.26 738.41,311.02 738.08,309.79 737.74,308.57 737.41,307.35 737.07,306.13 736.73,304.93 736.40,303.73 736.06,302.54 735.73,301.35 735.39,300.18 735.05,299.01 734.72,297.85 734.38,296.69 734.05,295.54 733.71,294.39 733.37,293.25 733.04,292.10 732.70,290.95 732.37,289.80 732.03,288.65 731.70,287.48 731.36,286.31 731.02,285.12 730.69,283.93 730.35,282.71 730.02,281.48 729.68,280.22 729.34,278.95 729.01,277.64 728.67,276.31 728.34,274.95 728.00,273.55 726.30,273.55" fill="#b4d444" />
<polygon points="726.30,158.60 728.00,158.60 728.34,159.62 728.67,160.66 729.01,161.73 729.34,162.83 729.68,163.96 730.02,165.11 730.35,166.31 730.69,167.53 731.02,168.79 731.36,170.08 731.70,171.41 732.03,172.78 732.37,174.18 732.70,175.62 733.04,177.10 733.37,178.62 733.71,180.18 734.05,181.78 734.38,183.42 734.72,185.10 735.05,186.83 735.39,188.59 735.73,190.40 736.06,192.25 736.40,194.15 736.73,196.08 737.07,198.05 737.41,200.06 737.74,202.10 738.08,204.17 738.41,206.26 738.75,208.39 739.09,210.54 739.42,212.71 739.76,214.89 740.09,217.10 740.43,219.32 740.77,221.56 741.10,223.80 741.44,226.06 741.77,228.32 742.11,230.59 742.44,232.86 742.78,235.13 743.12,237.41 743.45,239.68 743.79,241.95 744.12,244.21 744.46,246.47 744.80,248.73 745.13,250.97 745.47,253.20 745.80,255.43 746.14,257.64 746.48,259.83 746.81,262.02 747.15,264.19 747.48,266.34 747.82,268.47 748.16,270.59 748.49,272.68 748.83,274.76 749.16,276.82 749.50,278.86 749.84,280.87 750.17,282.87 750.51,284.85 750.84,286.80 751.18,288.74 751.51,290.65 751.85,292.54 752.19,294.41 752.52,296.25 752.86,298.08 753.19,299.88 753.53,301.66 753.87,303.42 754.20,305.16 754.54,306.87 754.87,308.57 755.21,310.24 755.88,313.52 756.56,316.72 757.23,319.83 757.91,322.85 758.58,325.78 759.26,328.62 759.93,331.37 760.61,334.04 761.28,336.63 761.96,339.13 762.63,341.55 763.31,343.89 763.98,346.15 764.66,348.33 765.33,350.43 766.01,352.46 766.68,354.42 767.36,356.31 768.03,358.14 768.71,359.90 769.38,361.61 770.06,363.25 770.73,364.85 771.41,366.38 772.08,367.87 772.76,369.31 773.43,370.70 774.11,372.05 774.78,373.36 775.46,374.62 776.13,375.84 776.81,377.03 777.48,378.17 778.16,379.29 778.83,380.37 779.51,381.41 780.18,382.43 780.86,383.41 781.53,384.36 782.21,385.29 782.88,386.19 783.56,387.07 784.23,387.91 784.91,388.74 785.58,389.54 786.26,390.32 786.93,391.08 787.61,391.81 788.28,392.53 788.96,393.23 789.63,393.90 790.31,394.56 790.98,395.21 791.66,395.83 792.33,396.44 793.01,397.03 793.68,397.61 794.36,398.18 795.03,398.72 795.71,399.26 796.38,399.78 797.06,400.29 797.73,400.79 798.41,401.27 799.08,401.75 799.76,402.21 800.43,402.66 801.11,403.10 801.78,403.53 802.46,403.95 803.13,404.36 803.81,404.76 804.48,405.15 805.15,405.54 805.83,405.91 806.50,406.28 807.18,406.64 807.85,406.99 808.53,407.34 809.20,407.67 809.88,408.00 810.55,408.33 811.23,408.64 811.90,408.95 812.58,409.26 813.25,409.56 813.93,409.85 814.60,410.13 815.28,410.41 815.95,410.69 816.63,410.95 817.30,411.22 817.98,411.47 818.65,411.73 819.33,411.97 820.00,412.21 820.68,412.45 821.35,412.68 822.03,412.91 822.70,413.13 823.38,413.35 824.05,413.57 824.73,413.78 825.40,413.98 826.08,414.18 826.75,414.38 827.43,414.57 828.10,414.76 828.78,414.95 830.12,415.31 832.84,415.99 835.55,416.61 838.27,417.19 840.98,417.72 843.70,418.20 846.41,418.65 849.12,419.07 851.84,419.45 854.55,419.80 857.27,420.13 859.98,420.43 862.70,420.71 865.41,420.97 868.13,421.22 870.84,421.45 873.56,421.67 876.27,421.87 878.99,422.07 881.70,422.25 884.42,422.42 887.13,422.59 889.85,422.75 892.56,422.91 895.28,423.06 897.99,423.21 900.71,423.35 903.42,423.49 906.14,423.62 908.85,423.76 911.57,423.89 914.28,424.02 917.00,424.14 919.71,424.26 922.43,424.38 925.14,424.50 927.85,424.61 930.57,424.72 933.28,424.83 936.00,424.94 938.71,425.04 941.43,425.14 944.14,425.25 946.86,425.34 949.57,425.44 952.29,425.54 955.00,425.63 957.72,425.72 960.43,425.81 963.15,425.90 963.15,426.62 960.43,426.56 957.72,426.50 955.00,426.43 952.29,426.37 949.57,426.31 946.86,426.24 944.14,426.17 941.43,426.11 938.71,426.04 936.00,425.97 933.28,425.90 930.57,425.83 927.85,425.75 925.14,425.68 922.43,425.60 919.71,425.53 917.00,425.45 914.28,425.37 911.57,425.29 908.85,425.20 906.14,425.12 903.42,425.03 900.71,424.94 897.99,424.85 895.28,424.76 892.56,424.66 889.85,424.56 887.13,424.46 884.42,424.36 881.70,424.24 878.99,424.13 876.27,424.00 873.56,423.87 870.84,423.73 868.13,423.58 865.41,423.42 862.70,423.25 859.98,423.06 857.27,422.86 854.55,422.64 851.84,422.40 849.12,422.14 846.41,421.86 843.70,421.55 840.98,421.21 838.27,420.85 835.55,420.45 832.84,420.01 830.12,419.53 828.78,419.28 828.10,419.15 827.43,419.01 826.75,418.88 826.08,418.74 825.40,418.60 824.73,418.45 824.05,418.30 823.38,418.15 822.70,418.00 822.03,417.84 821.35,417.68 820.68,417.51 820.00,417.34 819.33,417.17 818.65,417.00 817.98,416.82 817.30,416.63 816.63,416.44 815.95,416.25 815.28,416.06 814.60,415.86 813.93,415.65 813.25,415.44 812.58,415.23 811.90,415.01 811.23,414.79 810.55,414.56 809.88,414.33 809.20,414.09 808.53,413.85 807.85,413.60 807.18,413.34 806.50,413.08 805.83,412.82 805.15,412.55 804.48,412.27 803.81,411.98 803.13,411.69 802.46,411.40 801.78,411.09 801.11,410.78 800.43,410.46 799.76,410.13 799.08,409.80 798.41,409.45 797.73,409.10 797.06,408.74 796.38,408.37 795.71,407.99 795.03,407.60 794.36,407.20 793.68,406.80 793.01,406.38 792.33,405.95 791.66,405.50 790.98,405.05 790.31,404.59 789.63,404.11 788.96,403.62 788.28,403.11 787.61,402.60 786.93,402.06 786.26,401.52 785.58,400.96 784.91,400.38 784.23,399.79 783.56,399.17 782.88,398.55 782.21,397.90 781.53,397.23 780.86,396.55 780.18,395.84 779.51,395.11 778.83,394.36 778.16,393.59 777.48,392.79 776.81,391.96 776.13,391.11 775.46,390.23 774.78,389.33 774.11,388.39 773.43,387.42 772.76,386.42 772.08,385.38 771.41,384.30 770.73,383.19 770.06,382.04 769.38,380.85 768.71,379.61 768.03,378.33 767.36,377.01 766.68,375.63 766.01,374.20 765.33,372.72 764.66,371.18 763.98,369.58 763.31,367.92 762.63,366.20 761.96,364.41 761.28,362.56 760.61,360.65 759.93,358.66 759.26,356.61 758.58,354.49 757.91,352.29 757.23,350.02 756.56,347.68 755.88,345.27 755.21,342.77 754.87,341.50 754.54,340.21 754.20,338.90 753.87,337.58 753.53,336.23 753.19,334.86 752.86,333.47 752.52,332.07 752.19,330.64 751.85,329.19 751.51,327.73 751.18,326.24 750.84,324.73 750.51,323.21 750.17,321.66 749.84,320.09 749.50,318.50 749.16,316.90 748.83,315.27 748.49,313.62 748.16,311.95 747.82,310.27 747.48,308.56 747.15,306.83 746.81,305.09 746.48,303.33 746.14,301.55 745.80,299.75 745.47,297.94 745.13,296.12 744.80,294.28 744.46,292.42 744.12,290.56 743.79,288.68 743.45,286.79 743.12,284.89 742.78,282.98 742.44,281.07 742.11,279.15 741.77,277.22 741.44,275.29 741.10,273.36 740.77,271.42 740.43,269.49 740.09,267.56 739.76,265.63 739.42,263.70 739.09,261.79 738.75,259.87 738.41,257.97 738.08,256.08 737.74,254.20 737.41,252.34 737.07,250.49 736.73,248.66 736.40,246.86 736.06,245.07 735.73,243.31 735.39,241.57 735.05,239.85 734.72,238.16 734.38,236.49 734.05,234.84 733.71,233.22 733.37,231.61 733.04,230.03 732.70,228.46 732.37,226.91 732.03,225.38 731.70,223.87 731.36,222.37 731.02,220.88 730.69,219.41 730.35,217.95 730.02,216.51 729.68,215.07 729.34,213.64 729.01,212.22 728.67,210.81 728.34,209.40 728.00,208.00 726.30,208.00" fill="#5674c8" stroke="#5674c8" stroke-width="0.5"/>
<polygon points="726.30,158.60 728.00,158.60 728.34,159.62 728.67,160.66 729.01,161.73 729.34,162.83 729.68,163.96 730.02,165.11 730.35,166.31 730.69,167.53 731.02,168.79 731.36,170.08 731.70,171.41 732.03,172.78 732.37,174.18 732.70,175.62 733.04,177.10 733.37,178.62 733.71,180.18 734.05,181.78 734.38,183.42 734.72,185.10 735.05,186.83 735.39,188.59 735.73,190.40 736.06,192.25 736.40,194.15 736.73,196.08 737.07,198.05 737.41,200.06 737.74,202.10 738.08,204.17 738.41,206.26 738.75,208.39 739.09,210.54 739.42,212.71 739.76,214.89 740.09,217.10 740.43,219.32 740.77,221.56 741.10,223.80 741.44,226.06 741.77,228.32 742.11,230.59 742.44,232.86 742.78,235.13 743.12,237.41 743.45,239.68 743.79,241.95 744.12,244.21 744.46,246.47 744.80,248.73 745.13,250.97 745.47,253.20 745.80,255.43 746.14,257.64 746.48,259.83 746.81,262.02 747.15,264.19 747.48,266.34 747.82,268.47 748.16,270.59 748.49,272.68 748.83,274.76 749.16,276.82 749.50,278.86 749.84,280.87 750.17,282.87 750.51,284.85 750.84,286.80 751.18,288.74 751.51,290.65 751.85,292.54 752.19,294.41 752.52,296.25 752.86,298.08 753.19,299.88 753.53,301.66 753.87,303.42 754.20,305.16 754.54,306.87 754.87,308.57 755.21,310.24 755.88,313.52 756.56,316.72 757.23,319.83 757.91,322.85 758.58,325.78 759.26,328.62 759.93,331.37 760.61,334.04 761.28,336.63 761.96,339.13 762.63,341.55 763.31,343.89 763.98,346.15 764.66,348.33 765.33,350.43 766.01,352.46 766.68,354.42 767.36,356.31 768.03,358.14 768.71,359.90 769.38,361.61 770.06,363.25 770.73,364.85 771.41,366.38 772.08,367.87 772.76,369.31 773.43,370.70 774.11,372.05 774.78,373.36 775.46,374.62 776.13,375.84 776.81,377.03 777.48,378.17 778.16,379.29 778.83,380.37 779.51,381.41 780.18,382.43 780.86,383.41 781.53,384.36 782.21,385.29 782.88,386.19 783.56,387.07 784.23,387.91 784.91,388.74 785.58,389.54 786.26,390.32 786.93,391.08 787.61,391.81 788.28,392.53 788.96,393.23 789.63,393.90 790.31,394.56 790.98,395.21 791.66,395.83 792.33,396.44 793.01,397.03 793.68,397.61 794.36,398.18 795.03,398.72 795.71,399.26 796.38,399.78 797.06,400.29 797.73,400.79 798.41,401.27 799.08,401.75 799.76,402.21 800.43,402.66 801.11,403.10 801.78,403.53 802.46,403.95 803.13,404.36 803.81,404.76 804.48,405.15 805.15,405.54 805.83,405.91 806.50,406.28 807.18,406.64 807.85,406.99 808.53,407.34 809.20,407.67 809.88,408.00 810.55,408.33 811.23,408.64 811.90,408.95 812.58,409.26 813.25,409.56 813.93,409.85 814.60,410.13 815.28,410.41 815.95,410.69 816.63,410.95 817.30,411.22 817.98,411.47 818.65,411.73 819.33,411.97 820.00,412.21 820.68,412.45 821.35,412.68 822.03,412.91 822.70,413.13 823.38,413.35 824.05,413.57 824.73,413.78 825.40,413.98 826.08,414.18 826.75,414.38 827.43,414.57 828.10,414.76 828.78,414.95 830.12,415.31 832.84,415.99 835.55,416.61 838.27,417.19 840.98,417.72 843.70,418.20 846.41,418.65 849.12,419.07 851.84,419.45 854.55,419.80 857.27,420.13 859.98,420.43 862.70,420.71 865.41,420.97 868.13,421.22 870.84,421.45 873.56,421.67 876.27,421.87 878.99,422.07 881.70,422.25 884.42,422.42 887.13,422.59 889.85,422.75 892.56,422.91 895.28,423.06 897.99,423.21 900.71,423.35 903.42,423.49 906.14,423.62 908.85,423.76 911.57,423.89 914.28,424.02 917.00,424.14 919.71,424.26 922.43,424.38 925.14,424.50 927.85,424.61 930.57,424.72 933.28,424.83 936.00,424.94 938.71,425.04 941.43,425.14 944.14,425.25 946.86,425.34 949.57,425.44 952.29,425.54 955.00,425.63 957.72,425.72 960.43,425.81 963.15,425.90 963.15,426.26 960.43,426.18 957.72,426.11 955.00,426.03 952.29,425.95 949.57,425.87 946.86,425.79 944.14,425.71 941.43,425.63 938.71,425.54 936.00,425.45 933.28,425.36 930.57,425.27 927.85,425.18 925.14,425.09 922.43,424.99 919.71,424.89 917.00,424.79 914.28,424.69 911.57,424.59 908.85,424.48 906.14,424.37 903.42,424.26 900.71,424.14 897.99,424.03 895.28,423.91 892.56,423.79 889.85,423.66 887.13,423.53 884.42,423.39 881.70,423.25 878.99,423.10 876.27,422.94 873.56,422.77 870.84,422.59 868.13,422.40 865.41,422.20 862.70,421.98 859.98,421.74 857.27,421.49 854.55,421.22 851.84,420.92 849.12,420.60 846.41,420.26 843.70,419.88 840.98,419.47 838.27,419.02 835.55,418.53 832.84,418.00 830.12,417.42 828.78,417.11 828.10,416.96 827.43,416.79 826.75,416.63 826.08,416.46 825.40,416.29 824.73,416.11 824.05,415.94 823.38,415.75 822.70,415.57 822.03,415.38 821.35,415.18 820.68,414.98 820.00,414.78 819.33,414.57 818.65,414.36 817.98,414.14 817.30,413.92 816.63,413.70 815.95,413.47 815.28,413.23 814.60,412.99 813.93,412.75 813.25,412.50 812.58,412.24 811.90,411.98 811.23,411.72 810.55,411.44 809.88,411.17 809.20,410.88 808.53,410.59 807.85,410.29 807.18,409.99 806.50,409.68 805.83,409.37 805.15,409.04 804.48,408.71 803.81,408.37 803.13,408.03 802.46,407.67 801.78,407.31 801.11,406.94 800.43,406.55 799.76,406.16 799.08,405.76 798.41,405.34 797.73,404.91 797.06,404.47 796.38,404.02 795.71,403.55 795.03,403.07 794.36,402.58 793.68,402.07 793.01,401.55 792.33,401.01 791.66,400.46 790.98,399.89 790.31,399.30 789.63,398.69 788.96,398.07 788.28,397.43 787.61,396.77 786.93,396.09 786.26,395.39 785.58,394.67 784.91,393.93 784.23,393.16 783.56,392.37 782.88,391.55 782.21,390.71 781.53,389.85 780.86,388.95 780.18,388.03 779.51,387.08 778.83,386.09 778.16,385.08 777.48,384.03 776.81,382.95 776.13,381.83 775.46,380.67 774.78,379.48 774.11,378.24 773.43,376.97 772.76,375.65 772.08,374.28 771.41,372.87 770.73,371.41 770.06,369.90 769.38,368.33 768.71,366.71 768.03,365.03 767.36,363.29 766.68,361.49 766.01,359.62 765.33,357.69 764.66,355.68 763.98,353.60 763.31,351.45 762.63,349.22 761.96,346.91 761.28,344.53 760.61,342.06 759.93,339.51 759.26,336.89 758.58,334.18 757.91,331.39 757.23,328.51 756.56,325.55 755.88,322.50 755.21,319.37 754.87,317.78 754.54,316.17 754.20,314.54 753.87,312.89 753.53,311.22 753.19,309.53 752.86,307.81 752.52,306.08 752.19,304.32 751.85,302.55 751.51,300.75 751.18,298.94 750.84,297.11 750.51,295.25 750.17,293.38 749.84,291.49 749.50,289.58 749.16,287.65 748.83,285.70 748.49,283.74 748.16,281.76 747.82,279.76 747.48,277.74 747.15,275.70 746.81,273.65 746.48,271.58 746.14,269.49 745.80,267.39 745.47,265.28 745.13,263.16 744.80,261.02 744.46,258.88 744.12,256.73 743.79,254.56 743.45,252.40 743.12,250.23 742.78,248.05 742.44,245.88 742.11,243.70 741.77,241.52 741.44,239.35 741.10,237.18 740.77,235.02 740.43,232.87 740.09,230.72 739.76,228.59 739.42,226.48 739.09,224.37 738.75,222.29 738.41,220.23 738.08,218.18 737.74,216.16 737.41,214.17 737.07,212.21 736.73,210.28 736.40,208.38 736.06,206.51 735.73,204.69 735.39,202.90 735.05,201.14 734.72,199.43 734.38,197.75 734.05,196.11 733.71,194.50 733.37,192.93 733.04,191.39 732.70,189.89 732.37,188.42 732.03,186.98 731.70,185.57 731.36,184.20 731.02,182.85 730.69,181.54 730.35,180.25 730.02,178.99 729.68,177.76 729.34,176.55 729.01,175.36 728.67,174.20 728.34,173.06 728.00,171.94 726.30,171.94" fill="#30bed6" />
<polygon points="726.30,171.94 728.00,171.94 728.34,173.06 728.67,174.20 729.01,175.36 729.34,176.55 729.68,177.76 730.02,178.99 730.35,180.25 730.69,181.54 731.02,182.85 731.36,184.20 731.70,185.57 732.03,186.98 732.37,188.42 732.70,189.89 733.04,191.39 733.37,192.93 733.71,194.50 734.05,196.11 734.38,197.75 734.72,199.43 735.05,201.14 735.39,202.90 735.73,204.69 736.06,206.51 736.40,208.38 736.73,210.28 737.07,212.21 737.41,214.17 737.74,216.16 738.08,218.18 738.41,220.23 738.75,222.29 739.09,224.37 739.42,226.48 739.76,228.59 740.09,230.72 740.43,232.87 740.77,235.02 741.10,237.18 741.44,239.35 741.77,241.52 742.11,243.70 742.44,245.88 742.78,248.05 743.12,250.23 743.45,252.40 743.79,254.56 744.12,256.73 744.46,258.88 744.80,261.02 745.13,263.16 745.47,265.28 745.80,267.39 746.14,269.49 746.48,271.58 746.81,273.65 747.15,275.70 747.48,277.74 747.82,279.76 748.16,281.76 748.49,283.74 748.83,285.70 749.16,287.65 749.50,289.58 749.84,291.49 750.17,293.38 750.51,295.25 750.84,297.11 751.18,298.94 751.51,300.75 751.85,302.55 752.19,304.32 752.52,306.08 752.86,307.81 753.19,309.53 753.53,311.22 753.87,312.89 754.20,314.54 754.54,316.17 754.87,317.78 755.21,319.37 755.88,322.50 756.56,325.55 757.23,328.51 757.91,331.39 758.58,334.18 759.26,336.89 759.93,339.51 760.61,342.06 761.28,344.53 761.96,346.91 762.63,349.22 763.31,351.45 763.98,353.60 764.66,355.68 765.33,357.69 766.01,359.62 766.68,361.49 767.36,363.29 768.03,365.03 768.71,366.71 769.38,368.33 770.06,369.90 770.73,371.41 771.41,372.87 772.08,374.28 772.76,375.65 773.43,376.97 774.11,378.24 774.78,379.48 775.46,380.67 776.13,381.83 776.81,382.95 777.48,384.03 778.16,385.08 778.83,386.09 779.51,387.08 780.18,388.03 780.86,388.95 781.53,389.85 782.21,390.71 782.88,391.55 783.56,392.37 784.23,393.16 784.91,393.93 785.58,394.67 786.26,395.39 786.93,396.09 787.61,396.77 788.28,397.43 788.96,398.07 789.63,398.69 790.31,399.30 790.98,399.89 791.66,400.46 792.33,401.01 793.01,401.55 793.68,402.07 794.36,402.58 795.03,403.07 795.71,403.55 796.38,404.02 797.06,404.47 797.73,404.91 798.41,405.34 799.08,405.76 799.76,406.16 800.43,406.55 801.11,406.94 801.78,407.31 802.46,407.67 803.13,408.03 803.81,408.37 804.48,408.71 805.15,409.04 805.83,409.37 806.50,409.68 807.18,409.99 807.85,410.29 808.53,410.59 809.20,410.88 809.88,411.17 810.55,411.44 811.23,411.72 811.90,411.98 812.58,412.24 813.25,412.50 813.93,412.75 814.60,412.99 815.28,413.23 815.95,413.47 816.63,413.70 817.30,413.92 817.98,414.14 818.65,414.36 819.33,414.57 820.00,414.78 820.68,414.98 821.35,415.18 822.03,415.38 822.70,415.57 823.38,415.75 824.05,415.94 824.73,416.11 825.40,416.29 826.08,416.46 826.75,416.63 827.43,416.79 828.10,416.96 828.78,417.11 830.12,417.42 832.84,418.00 835.55,418.53 838.27,419.02 840.98,419.47 843.70,419.88 846.41,420.26 849.12,420.60 851.84,420.92 854.55,421.22 857.27,421.49 859.98,421.74 862.70,421.98 865.41,422.20 868.13,422.40 870.84,422.59 873.56,422.77 876.27,422.94 878.99,423.10 881.70,423.25 884.42,423.39 887.13,423.53 889.85,423.66 892.56,423.79 895.28,423.91 897.99,424.03 900.71,424.14 903.42,424.26 906.14,424.37 908.85,424.48 911.57,424.59 914.28,424.69 917.00,424.79 919.71,424.89 922.43,424.99 925.14,425.09 927.85,425.18 930.57,425.27 933.28,425.36 936.00,425.45 938.71,425.54 941.43,425.63 944.14,425.71 946.86,425.79 949.57,425.87 952.29,425.95 955.00,426.03 957.72,426.11 960.43,426.18 963.15,426.26 963.15,426.30 960.43,426.23 957.72,426.15 955.00,426.08 952.29,426.00 949.57,425.93 946.86,425.85 944.14,425.77 941.43,425.68 938.71,425.60 936.00,425.52 933.28,425.43 930.57,425.34 927.85,425.25 925.14,425.16 922.43,425.07 919.71,424.97 917.00,424.87 914.28,424.77 911.57,424.67 908.85,424.57 906.14,424.46 903.42,424.35 900.71,424.24 897.99,424.13 895.28,424.01 892.56,423.89 889.85,423.77 887.13,423.64 884.42,423.51 881.70,423.37 878.99,423.22 876.27,423.07 873.56,422.90 870.84,422.73 868.13,422.54 865.41,422.34 862.70,422.13 859.98,421.90 857.27,421.66 854.55,421.39 851.84,421.10 849.12,420.79 846.41,420.45 843.70,420.08 840.98,419.68 838.27,419.24 835.55,418.76 832.84,418.24 830.12,417.67 828.78,417.37 828.10,417.22 827.43,417.06 826.75,416.90 826.08,416.73 825.40,416.57 824.73,416.39 824.05,416.22 823.38,416.04 822.70,415.86 822.03,415.67 821.35,415.48 820.68,415.29 820.00,415.09 819.33,414.88 818.65,414.68 817.98,414.47 817.30,414.25 816.63,414.03 815.95,413.80 815.28,413.57 814.60,413.34 813.93,413.10 813.25,412.85 812.58,412.60 811.90,412.35 811.23,412.08 810.55,411.82 809.88,411.55 809.20,411.27 808.53,410.98 807.85,410.69 807.18,410.39 806.50,410.09 805.83,409.78 805.15,409.46 804.48,409.14 803.81,408.81 803.13,408.47 802.46,408.12 801.78,407.76 801.11,407.40 800.43,407.02 799.76,406.64 799.08,406.24 798.41,405.83 797.73,405.41 797.06,404.98 796.38,404.54 795.71,404.08 795.03,403.61 794.36,403.13 793.68,402.63 793.01,402.12 792.33,401.60 791.66,401.05 790.98,400.50 790.31,399.92 789.63,399.33 788.96,398.73 788.28,398.10 787.61,397.46 786.93,396.79 786.26,396.11 785.58,395.40 784.91,394.68 784.23,393.93 783.56,393.16 782.88,392.37 782.21,391.55 781.53,390.70 780.86,389.83 780.18,388.93 779.51,388.00 778.83,387.04 778.16,386.05 777.48,385.03 776.81,383.98 776.13,382.89 775.46,381.76 774.78,380.60 774.11,379.40 773.43,378.15 772.76,376.87 772.08,375.54 771.41,374.16 770.73,372.74 770.06,371.26 769.38,369.74 768.71,368.16 768.03,366.52 767.36,364.82 766.68,363.07 766.01,361.25 765.33,359.36 764.66,357.41 763.98,355.38 763.31,353.28 762.63,351.10 761.96,348.85 761.28,346.52 760.61,344.12 759.93,341.63 759.26,339.06 758.58,336.42 757.91,333.69 757.23,330.88 756.56,327.98 755.88,325.01 755.21,321.95 754.87,320.39 754.54,318.82 754.20,317.22 753.87,315.60 753.53,313.97 753.19,312.31 752.86,310.63 752.52,308.93 752.19,307.21 751.85,305.47 751.51,303.71 751.18,301.93 750.84,300.14 750.51,298.32 750.17,296.48 749.84,294.62 749.50,292.75 749.16,290.85 748.83,288.94 748.49,287.01 748.16,285.07 747.82,283.10 747.48,281.11 747.15,279.11 746.81,277.09 746.48,275.06 746.14,273.01 745.80,270.94 745.47,268.86 745.13,266.77 744.80,264.67 744.46,262.55 744.12,260.43 743.79,258.30 743.45,256.17 743.12,254.03 742.78,251.88 742.44,249.73 742.11,247.58 741.77,245.43 741.44,243.29 741.10,241.15 740.77,239.01 740.43,236.88 740.09,234.76 739.76,232.65 739.42,230.56 739.09,228.47 738.75,226.41 738.41,224.36 738.08,222.34 737.74,220.33 737.41,218.36 737.07,216.41 736.73,214.48 736.40,212.59 736.06,210.74 735.73,208.92 735.39,207.13 735.05,205.39 734.72,203.67 734.38,202.00 734.05,200.35 733.71,198.74 733.37,197.17 733.04,195.63 732.70,194.12 732.37,192.64 732.03,191.19 731.70,189.77 731.36,188.38 731.02,187.02 730.69,185.69 730.35,184.38 730.02,183.10 729.68,181.85 729.34,180.61 729.01,179.40 728.67,178.21 728.34,177.04 728.00,175.89 726.30,175.89" fill="#2c4088" />
<polyline points="728.00,173.91 728.34,175.05 728.67,176.21 729.01,177.38 729.34,178.58 729.68,179.80 730.02,181.05 730.35,182.32 730.69,183.61 731.02,184.94 731.36,186.29 731.70,187.67 732.03,189.08 732.37,190.53 732.70,192.00 733.04,193.51 733.37,195.05 733.71,196.62 734.05,198.23 734.38,199.87 734.72,201.55 735.05,203.27 735.39,205.02 735.73,206.80 736.06,208.63 736.40,210.49 736.73,212.38 737.07,214.31 737.41,216.26 737.74,218.25 738.08,220.26 738.41,222.29 738.75,224.35 739.09,226.42 739.42,228.52 739.76,230.62 740.09,232.74 740.43,234.87 740.77,237.02 741.10,239.16 741.44,241.32 741.77,243.48 742.11,245.64 742.44,247.80 742.78,249.97 743.12,252.13 743.45,254.28 743.79,256.43 744.12,258.58 744.46,260.72 744.80,262.85 745.13,264.96 745.47,267.07 745.80,269.17 746.14,271.25 746.48,273.32 746.81,275.37 747.15,277.41 747.48,279.43 747.82,281.43 748.16,283.41 748.49,285.38 748.83,287.32 749.16,289.25 749.50,291.16 749.84,293.06 750.17,294.93 750.51,296.78 750.84,298.62 751.18,300.44 751.51,302.23 751.85,304.01 752.19,305.77 752.52,307.50 752.86,309.22 753.19,310.92 753.53,312.59 753.87,314.25 754.20,315.88 754.54,317.49 754.87,319.09 755.21,320.66 755.88,323.76 756.56,326.77 757.23,329.69 757.91,332.54 758.58,335.30 759.26,337.98 759.93,340.57 760.61,343.09 761.28,345.52 761.96,347.88 762.63,350.16 763.31,352.36 763.98,354.49 764.66,356.54 765.33,358.52 766.01,360.43 766.68,362.28 767.36,364.06 768.03,365.77 768.71,367.43 769.38,369.03 770.06,370.58 770.73,372.07 771.41,373.51 772.08,374.91 772.76,376.26 773.43,377.56 774.11,378.82 774.78,380.04 775.46,381.22 776.13,382.36 776.81,383.46 777.48,384.53 778.16,385.57 778.83,386.57 779.51,387.54 780.18,388.48 780.86,389.39 781.53,390.27 782.21,391.13 782.88,391.96 783.56,392.76 784.23,393.54 784.91,394.30 785.58,395.04 786.26,395.75 786.93,396.44 787.61,397.11 788.28,397.77" fill="none" stroke="#222a66" stroke-width="1.80" stroke-dasharray="2.0 1.8"/>
<polyline points="733.37,211.48 733.71,213.06 734.05,214.68 734.38,216.33 734.72,218.00 735.05,219.70 735.39,221.44 735.73,223.20 736.06,225.00 736.40,226.83 736.73,228.68 737.07,230.56 737.41,232.47 737.74,234.40 738.08,236.35 738.41,238.32 738.75,240.31 739.09,242.31 739.42,244.32 739.76,246.35 740.09,248.38 740.43,250.43 740.77,252.47 741.10,254.53 741.44,256.58 741.77,258.64 742.11,260.69 742.44,262.75 742.78,264.80 743.12,266.85 743.45,268.89 743.79,270.92 744.12,272.95 744.46,274.96 744.80,276.97 745.13,278.96 745.47,280.94 745.80,282.91 746.14,284.86 746.48,286.80 746.81,288.72 747.15,290.63 747.48,292.51 747.82,294.38 748.16,296.23 748.49,298.06 748.83,299.88 749.16,301.67 749.50,303.44 749.84,305.19 750.17,306.92 750.51,308.63 750.84,310.32 751.18,311.99 751.51,313.64 751.85,315.26 752.19,316.87 752.52,318.46 752.86,320.02 753.19,321.57 753.53,323.09 753.87,324.60 754.20,326.08 754.54,327.54 754.87,328.99 755.21,330.41 755.88,333.20 756.56,335.92 757.23,338.55 757.91,341.10 758.58,343.58 759.26,345.97 759.93,348.29 760.61,350.54 761.28,352.71 761.96,354.80 762.63,356.83 763.31,358.79 763.98,360.67 764.66,362.49 765.33,364.25 766.01,365.94 766.68,367.57 767.36,369.14 768.03,370.66 768.71,372.12 769.38,373.54 770.06,374.90 770.73,376.22 771.41,377.49 772.08,378.73 772.76,379.92 773.43,381.07 774.11,382.18 774.78,383.26 775.46,384.30 776.13,385.31 776.81,386.29 777.48,387.24 778.16,388.15 778.83,389.04 779.51,389.91 780.18,390.74 780.86,391.56 781.53,392.34 782.21,393.11 782.88,393.85 783.56,394.57 784.23,395.27 784.91,395.96 785.58,396.62 786.26,397.26 786.93,397.89 787.61,398.50 788.28,399.09 788.96,399.67 789.63,400.23 790.31,400.78 790.98,401.31 791.66,401.83 792.33,402.33 793.01,402.83 793.68,403.31 794.36,403.77 795.03,404.23 795.71,404.67 796.38,405.11 797.06,405.53 797.73,405.94 798.41,406.34 799.08,406.74 799.76,407.12 800.43,407.49 801.11,407.86 801.78,408.22" fill="none" stroke="#8aa0e0" stroke-width="1.30" stroke-dasharray="1.3 2.6" stroke-opacity="0.85"/>
<polyline points="736.06,237.68 736.40,239.48 736.73,241.30 737.07,243.15 737.41,245.02 737.74,246.91 738.08,248.81 738.41,250.73 738.75,252.67 739.09,254.61 739.42,256.56 739.76,258.53 740.09,260.49 740.43,262.47 740.77,264.44 741.10,266.42 741.44,268.40 741.77,270.38 742.11,272.35 742.44,274.32 742.78,276.28 743.12,278.24 743.45,280.19 743.79,282.14 744.12,284.07 744.46,285.99 744.80,287.90 745.13,289.80 745.47,291.68 745.80,293.55 746.14,295.40 746.48,297.24 746.81,299.06 747.15,300.86 747.48,302.65 747.82,304.41 748.16,306.16 748.49,307.89 748.83,309.60 749.16,311.29 749.50,312.95 749.84,314.60 750.17,316.23 750.51,317.84 750.84,319.42 751.18,320.99 751.51,322.54 751.85,324.06 752.19,325.57 752.52,327.05 752.86,328.52 753.19,329.96 753.53,331.39 753.87,332.80 754.20,334.18 754.54,335.55 754.87,336.89 755.21,338.22 755.88,340.82 756.56,343.35 757.23,345.80 757.91,348.17 758.58,350.47 759.26,352.69 759.93,354.84 760.61,356.92 761.28,358.93 761.96,360.87 762.63,362.75 763.31,364.55 763.98,366.30 764.66,367.98 765.33,369.60 766.01,371.16 766.68,372.66 767.36,374.11 768.03,375.51 768.71,376.86 769.38,378.16 770.06,379.41 770.73,380.62 771.41,381.80 772.08,382.93 772.76,384.02 773.43,385.08 774.11,386.10 774.78,387.09 775.46,388.05 776.13,388.98 776.81,389.87 777.48,390.74 778.16,391.59 778.83,392.40 779.51,393.19 780.18,393.96 780.86,394.71 781.53,395.43 782.21,396.13 782.88,396.82 783.56,397.48 784.23,398.12 784.91,398.75 785.58,399.36 786.26,399.95 786.93,400.53 787.61,401.09 788.28,401.63 788.96,402.16 789.63,402.68 790.31,403.18 790.98,403.67 791.66,404.15 792.33,404.61 793.01,405.07 793.68,405.51 794.36,405.94 795.03,406.36" fill="none" stroke="#7f97dc" stroke-width="1.20" stroke-dasharray="1.2 3.0" stroke-opacity="0.7"/>
<polyline points="730.02,266.05 730.35,267.16 730.69,268.26 731.02,269.37 731.36,270.47 731.70,271.59 732.03,272.70 732.37,273.83 732.70,274.96 733.04,276.09 733.37,277.24 733.71,278.39 734.05,279.56 734.38,280.73 734.72,281.92 735.05,283.11 735.39,284.32 735.73,285.55 736.06,286.78 736.40,288.03 736.73,289.29 737.07,290.56 737.41,291.85 737.74,293.14 738.08,294.44 738.41,295.76 738.75,297.07 739.09,298.40 739.42,299.73 739.76,301.07 740.09,302.41 740.43,303.76 740.77,305.10 741.10,306.45 741.44,307.81 741.77,309.16 742.11,310.51 742.44,311.87 742.78,313.22 743.12,314.57 743.45,315.92 743.79,317.26 744.12,318.60 744.46,319.94 744.80,321.28 745.13,322.61 745.47,323.93 745.80,325.25 746.14,326.56 746.48,327.86 746.81,329.16 747.15,330.45 747.48,331.74 747.82,333.01 748.16,334.28 748.49,335.53 748.83,336.78 749.16,338.02 749.50,339.25 749.84,340.47 750.17,341.68 750.51,342.87 750.84,344.06 751.18,345.23 751.51,346.40 751.85,347.55 752.19,348.69 752.52,349.81 752.86,350.93 753.19,352.03 753.53,353.12 753.87,354.20 754.20,355.26 754.54,356.31 754.87,357.35 755.21,358.38 755.88,360.40 756.56,362.36 757.23,364.27 757.91,366.13 758.58,367.93 759.26,369.68 759.93,371.37 760.61,373.01 761.28,374.60 761.96,376.14 762.63,377.62 763.31,379.05 763.98,380.43 764.66,381.76 765.33,383.05 766.01,384.28 766.68,385.47 767.36,386.62 768.03,387.72 768.71,388.78 769.38,389.81 770.06,390.80 770.73,391.75 771.41,392.67 772.08,393.56 772.76,394.42 773.43,395.25 774.11,396.05 774.78,396.82 775.46,397.57 776.13,398.29 776.81,398.99 777.48,399.66 778.16,400.31 778.83,400.94 779.51,401.55 780.18,402.14 780.86,402.71 781.53,403.27 782.21,403.80 782.88,404.32 783.56,404.82 784.23,405.31 784.91,405.78 785.58,406.23 786.26,406.68 786.93,407.11 787.61,407.52 788.28,407.93 788.96,408.32 789.63,408.70 790.31,409.07 790.98,409.43 791.66,409.77 792.33,410.11 793.01,410.44 793.68,410.76 794.36,411.08 795.03,411.38 795.71,411.68 796.38,411.96 797.06,412.25 797.73,412.52 798.41,412.79 799.08,413.05 799.76,413.30 800.43,413.55 801.11,413.79 801.78,414.03" fill="none" stroke="#a8d86c" stroke-width="1.20" stroke-dasharray="1.2 2.8" stroke-opacity="0.7"/>
<path d="M1055.5,427.5 C1057,424.5 1062,424 1070,424.2 C1080,424.6 1090,423.8 1097,424.6 C1100,425.5 1099.5,429 1097,429.5 C1090,430 1080,428.5 1070,428.6 C1063,428.7 1058,431 1055.5,429.5 Z" fill="#e8461e"/>
</g>
<defs><linearGradient id="cm" x1="0" y1="0" x2="0" y2="1">
<stop offset="0.0000" stop-color="#6e1519"/>
<stop offset="0.0429" stop-color="#8e1a1f"/>
<stop offset="0.0914" stop-color="#b2221f"/>
<stop offset="0.1286" stop-color="#cc2c26"/>
<stop offset="0.1657" stop-color="#e04a26"/>
<stop offset="0.2057" stop-color="#ea6a28"/>
<stop offset="0.2429" stop-color="#f3832b"/>
<stop offset="0.3000" stop-color="#f8a531"/>
<stop offset="0.3486" stop-color="#f6bf35"/>
<stop offset="0.3857" stop-color="#ead337"/>
<stop offset="0.4143" stop-color="#dfe036"/>
<stop offset="0.4571" stop-color="#c4da3a"/>
<stop offset="0.5000" stop-color="#a8cc3e"/>
<stop offset="0.5571" stop-color="#8cc64a"/>
<stop offset="0.6200" stop-color="#6cc07a"/>
<stop offset="0.6714" stop-color="#55bca0"/>
<stop offset="0.7086" stop-color="#45b8c0"/>
<stop offset="0.7486" stop-color="#2ab8e8"/>
<stop offset="0.7943" stop-color="#3ca0d8"/>
<stop offset="0.8429" stop-color="#4884c8"/>
<stop offset="0.8914" stop-color="#4868b4"/>
<stop offset="0.9286" stop-color="#3f4c9c"/>
<stop offset="0.9657" stop-color="#33307a"/>
<stop offset="1.0000" stop-color="#2a1a4a"/>
</linearGradient></defs>
<rect x="1193.40" y="32.00" width="25.00" height="396.00" fill="url(#cm)" stroke="#707070" stroke-width="1"/>
<g stroke="#555" stroke-width="1.2">
<line x1="1214.40" y1="371.43" x2="1218.40" y2="371.43"/>
<line x1="1214.40" y1="314.86" x2="1218.40" y2="314.86"/>
<line x1="1214.40" y1="258.29" x2="1218.40" y2="258.29"/>
<line x1="1214.40" y1="201.71" x2="1218.40" y2="201.71"/>
<line x1="1214.40" y1="145.14" x2="1218.40" y2="145.14"/>
<line x1="1214.40" y1="88.57" x2="1218.40" y2="88.57"/>
</g>
<g font-size="17.0">
<text x="1225.9" y="435.30">124</text>
<text x="1225.9" y="378.73">124.5</text>
<text x="1225.9" y="322.16">125</text>
<text x="1225.9" y="265.59">125.5</text>
<text x="1225.9" y="209.01">126</text>
<text x="1225.9" y="152.44">126.5</text>
<text x="1225.9" y="95.87">127</text>
<text x="1225.9" y="39.30">127.5</text>
</g>
<text transform="translate(1278.3,176.3) rotate(90)" font-size="18.8" textLength="120" lengthAdjust="spacing">Longitude (<tspan font-size="12" dy="-7">o</tspan><tspan dy="7">E)</tspan></text>
</svg></body></html>
